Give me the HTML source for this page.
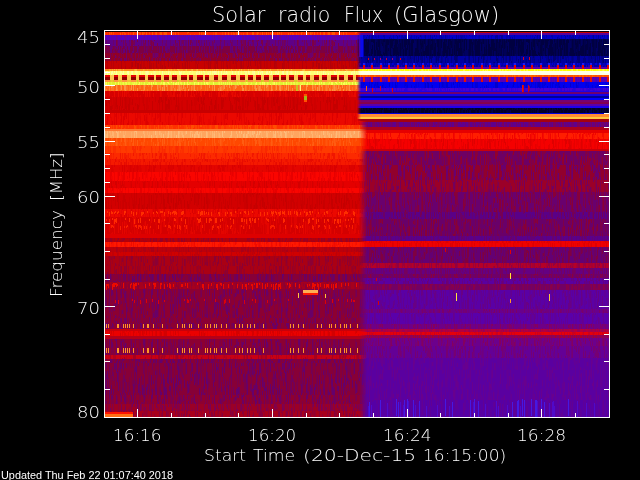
<!DOCTYPE html>
<html><head><meta charset="utf-8"><style>
html,body{margin:0;padding:0;background:#000;width:640px;height:480px;overflow:hidden}
svg{display:block}
text{font-family:"DejaVu Sans","Liberation Sans",sans-serif;font-weight:200;fill:#fff}
</style></head><body>
<svg width="640" height="480" viewBox="0 0 640 480">
<defs>
<pattern id="p1" patternUnits="userSpaceOnUse" x="7" y="3" width="168" height="60"><path fill="#fff" fill-opacity="0.35" d="M1 24h1v4h-1zM2 19h1v11h-1zM2 51h1v9h-1zM3 0h1v3h-1zM4 0h1v6h-1zM4 11h1v4h-1zM4 40h1v4h-1zM4 44h1v6h-1zM5 0h1v9h-1zM6 0h1v12h-1zM6 38h1v9h-1zM7 0h1v10h-1zM7 37h1v7h-1zM7 47h1v10h-1zM8 58h1v2h-1zM9 59h1v1h-1zM10 0h1v12h-1zM11 37h1v10h-1zM11 55h1v5h-1zM14 17h1v12h-1zM14 41h1v7h-1zM15 14h1v7h-1zM17 8h1v3h-1zM17 39h1v4h-1zM19 31h1v12h-1zM20 35h1v12h-1zM21 12h1v11h-1zM21 32h1v7h-1zM21 39h1v3h-1zM22 12h1v12h-1zM23 55h1v5h-1zM24 0h1v4h-1zM25 0h1v10h-1zM25 33h1v6h-1zM26 0h1v10h-1zM26 18h1v11h-1zM26 49h1v8h-1zM27 0h1v3h-1zM27 26h1v7h-1zM28 0h1v9h-1zM30 29h1v3h-1zM31 42h1v7h-1zM31 49h1v11h-1zM32 27h1v8h-1zM32 51h1v6h-1zM32 57h1v3h-1zM33 15h1v10h-1zM33 33h1v4h-1zM34 16h1v5h-1zM35 6h1v6h-1zM36 42h1v7h-1zM37 40h1v10h-1zM38 10h1v8h-1zM38 24h1v8h-1zM39 53h1v7h-1zM41 9h1v9h-1zM42 49h1v5h-1zM43 8h1v11h-1zM43 19h1v10h-1zM43 51h1v3h-1zM45 12h1v6h-1zM46 46h1v3h-1zM46 49h1v3h-1zM47 26h1v11h-1zM50 52h1v4h-1zM50 56h1v4h-1zM56 22h1v5h-1zM57 53h1v7h-1zM60 14h1v4h-1zM60 37h1v7h-1zM61 56h1v4h-1zM62 16h1v9h-1zM64 0h1v4h-1zM64 10h1v11h-1zM65 11h1v11h-1zM66 30h1v3h-1zM67 0h1v3h-1zM69 4h1v6h-1zM69 16h1v12h-1zM70 14h1v6h-1zM70 20h1v6h-1zM71 27h1v12h-1zM74 8h1v5h-1zM75 0h1v4h-1zM76 0h1v11h-1zM76 11h1v9h-1zM78 22h1v3h-1zM78 32h1v6h-1zM79 0h1v8h-1zM81 27h1v8h-1zM82 12h1v7h-1zM83 11h1v4h-1zM83 48h1v12h-1zM84 18h1v5h-1zM84 58h1v2h-1zM85 26h1v10h-1zM86 6h1v12h-1zM86 35h1v3h-1zM86 43h1v4h-1zM86 58h1v2h-1zM87 47h1v3h-1zM88 54h1v6h-1zM89 5h1v5h-1zM89 28h1v6h-1zM89 46h1v8h-1zM92 0h1v10h-1zM92 57h1v3h-1zM93 0h1v10h-1zM93 19h1v7h-1zM93 34h1v10h-1zM94 37h1v5h-1zM96 57h1v3h-1zM97 14h1v9h-1zM97 30h1v9h-1zM97 39h1v11h-1zM100 24h1v12h-1zM100 39h1v9h-1zM102 0h1v4h-1zM102 41h1v6h-1zM102 58h1v2h-1zM103 6h1v10h-1zM103 28h1v11h-1zM104 12h1v4h-1zM104 16h1v6h-1zM104 31h1v12h-1zM105 53h1v7h-1zM106 32h1v11h-1zM107 37h1v12h-1zM108 35h1v4h-1zM109 44h1v4h-1zM110 46h1v11h-1zM113 18h1v12h-1zM113 56h1v4h-1zM114 53h1v7h-1zM115 17h1v8h-1zM116 7h1v5h-1zM117 38h1v8h-1zM118 8h1v4h-1zM118 20h1v7h-1zM120 32h1v12h-1zM121 0h1v3h-1zM121 19h1v4h-1zM121 35h1v6h-1zM122 14h1v9h-1zM122 55h1v5h-1zM123 0h1v5h-1zM123 28h1v11h-1zM123 39h1v3h-1zM124 9h1v6h-1zM124 39h1v3h-1zM125 0h1v5h-1zM125 15h1v8h-1zM126 17h1v4h-1zM128 18h1v7h-1zM129 0h1v3h-1zM129 29h1v8h-1zM131 46h1v10h-1zM131 59h1v1h-1zM132 33h1v11h-1zM134 18h1v9h-1zM135 32h1v8h-1zM136 21h1v4h-1zM136 49h1v10h-1zM137 0h1v11h-1zM138 48h1v11h-1zM139 35h1v10h-1zM140 0h1v12h-1zM140 33h1v12h-1zM140 45h1v12h-1zM141 12h1v12h-1zM141 42h1v4h-1zM142 9h1v6h-1zM142 31h1v8h-1zM144 22h1v7h-1zM146 7h1v11h-1zM148 0h1v8h-1zM148 53h1v7h-1zM149 0h1v3h-1zM149 6h1v7h-1zM150 7h1v8h-1zM150 40h1v9h-1zM151 58h1v2h-1zM152 24h1v9h-1zM153 6h1v8h-1zM153 20h1v7h-1zM153 35h1v5h-1zM155 58h1v2h-1zM156 29h1v11h-1zM158 0h1v12h-1zM159 21h1v5h-1zM160 10h1v4h-1zM161 46h1v3h-1zM162 0h1v12h-1zM162 20h1v3h-1zM163 3h1v6h-1zM163 9h1v10h-1zM164 35h1v7h-1zM167 0h1v12h-1zM167 12h1v4h-1z"/><path fill="#fff" fill-opacity="0.6" d="M0 42h1v5h-1zM2 42h1v9h-1zM3 28h1v7h-1zM3 35h1v8h-1zM3 47h1v4h-1zM4 6h1v5h-1zM4 25h1v3h-1zM4 50h1v10h-1zM5 15h1v6h-1zM6 17h1v11h-1zM7 10h1v4h-1zM7 44h1v3h-1zM8 12h1v4h-1zM12 24h1v7h-1zM12 37h1v9h-1zM12 46h1v6h-1zM15 8h1v6h-1zM15 31h1v3h-1zM16 0h1v9h-1zM16 43h1v4h-1zM20 9h1v11h-1zM20 52h1v8h-1zM21 0h1v7h-1zM21 7h1v5h-1zM22 35h1v3h-1zM24 9h1v7h-1zM26 10h1v8h-1zM26 44h1v5h-1zM27 38h1v9h-1zM28 23h1v12h-1zM29 40h1v9h-1zM29 49h1v7h-1zM30 57h1v3h-1zM31 0h1v9h-1zM32 9h1v9h-1zM35 32h1v3h-1zM35 38h1v4h-1zM35 59h1v1h-1zM37 0h1v5h-1zM37 5h1v12h-1zM37 54h1v6h-1zM38 52h1v7h-1zM38 59h1v1h-1zM39 0h1v11h-1zM40 23h1v11h-1zM40 53h1v4h-1zM41 28h1v11h-1zM41 39h1v9h-1zM43 0h1v8h-1zM43 41h1v10h-1zM44 10h1v6h-1zM44 16h1v9h-1zM46 19h1v5h-1zM46 52h1v5h-1zM48 14h1v7h-1zM48 39h1v5h-1zM49 23h1v5h-1zM49 58h1v2h-1zM50 0h1v4h-1zM50 16h1v8h-1zM50 32h1v5h-1zM52 18h1v7h-1zM54 14h1v8h-1zM55 12h1v3h-1zM56 0h1v3h-1zM56 13h1v9h-1zM56 27h1v7h-1zM56 40h1v5h-1zM56 45h1v12h-1zM58 24h1v12h-1zM58 48h1v6h-1zM59 30h1v11h-1zM60 44h1v4h-1zM60 48h1v11h-1zM60 59h1v1h-1zM61 3h1v8h-1zM61 32h1v3h-1zM62 0h1v4h-1zM62 11h1v5h-1zM64 24h1v12h-1zM64 39h1v8h-1zM67 34h1v11h-1zM68 0h1v3h-1zM68 14h1v5h-1zM68 30h1v3h-1zM68 33h1v11h-1zM68 44h1v11h-1zM68 59h1v1h-1zM69 10h1v6h-1zM70 36h1v9h-1zM71 20h1v7h-1zM71 58h1v2h-1zM72 0h1v3h-1zM72 8h1v4h-1zM72 12h1v9h-1zM72 44h1v5h-1zM73 33h1v10h-1zM73 54h1v6h-1zM74 56h1v4h-1zM75 4h1v10h-1zM75 21h1v7h-1zM76 20h1v9h-1zM76 54h1v4h-1zM77 52h1v4h-1zM77 56h1v4h-1zM78 3h1v11h-1zM78 49h1v3h-1zM79 37h1v7h-1zM80 20h1v7h-1zM80 57h1v3h-1zM82 22h1v5h-1zM83 26h1v5h-1zM84 41h1v9h-1zM84 53h1v5h-1zM85 17h1v5h-1zM85 22h1v4h-1zM88 15h1v10h-1zM89 0h1v5h-1zM91 4h1v10h-1zM92 10h1v12h-1zM93 26h1v8h-1zM93 44h1v9h-1zM95 51h1v9h-1zM96 31h1v10h-1zM96 41h1v4h-1zM98 0h1v4h-1zM98 8h1v10h-1zM98 18h1v9h-1zM98 39h1v4h-1zM99 0h1v6h-1zM99 11h1v7h-1zM99 34h1v6h-1zM100 59h1v1h-1zM101 15h1v12h-1zM102 4h1v3h-1zM102 7h1v3h-1zM104 53h1v3h-1zM105 4h1v9h-1zM105 42h1v4h-1zM106 9h1v9h-1zM106 29h1v3h-1zM106 47h1v3h-1zM107 49h1v10h-1zM108 0h1v6h-1zM108 15h1v8h-1zM108 39h1v7h-1zM109 58h1v2h-1zM111 5h1v4h-1zM111 9h1v10h-1zM112 0h1v8h-1zM113 0h1v10h-1zM114 43h1v10h-1zM115 25h1v12h-1zM115 52h1v7h-1zM115 59h1v1h-1zM116 12h1v7h-1zM116 19h1v11h-1zM117 12h1v7h-1zM117 27h1v11h-1zM118 16h1v4h-1zM118 30h1v4h-1zM119 19h1v4h-1zM119 23h1v6h-1zM119 32h1v11h-1zM120 53h1v3h-1zM121 29h1v6h-1zM122 23h1v6h-1zM127 4h1v3h-1zM127 7h1v11h-1zM127 18h1v12h-1zM128 0h1v6h-1zM128 40h1v3h-1zM128 55h1v5h-1zM129 11h1v11h-1zM129 58h1v2h-1zM130 49h1v9h-1zM131 56h1v3h-1zM132 22h1v11h-1zM133 28h1v5h-1zM134 13h1v5h-1zM134 58h1v2h-1zM136 0h1v11h-1zM136 28h1v12h-1zM136 40h1v3h-1zM137 11h1v12h-1zM137 23h1v8h-1zM137 41h1v11h-1zM137 58h1v2h-1zM139 45h1v10h-1zM142 15h1v7h-1zM142 22h1v9h-1zM144 48h1v9h-1zM145 0h1v7h-1zM147 51h1v9h-1zM148 17h1v6h-1zM148 28h1v11h-1zM149 13h1v12h-1zM152 0h1v12h-1zM152 42h1v12h-1zM152 57h1v3h-1zM154 10h1v11h-1zM154 50h1v6h-1zM156 22h1v7h-1zM157 0h1v4h-1zM160 0h1v3h-1zM160 44h1v9h-1zM160 53h1v3h-1zM160 56h1v4h-1zM161 49h1v5h-1zM162 46h1v3h-1zM163 28h1v9h-1zM163 49h1v4h-1zM164 0h1v3h-1zM164 6h1v9h-1zM164 32h1v3h-1zM165 49h1v11h-1zM166 25h1v9h-1zM166 34h1v3h-1z"/><path fill="#fff" fill-opacity="0.9" d="M0 20h1v12h-1zM0 47h1v5h-1zM1 12h1v12h-1zM1 34h1v10h-1zM2 0h1v7h-1zM3 3h1v10h-1zM3 13h1v9h-1zM3 43h1v4h-1zM3 51h1v9h-1zM4 15h1v3h-1zM6 50h1v7h-1zM6 57h1v3h-1zM7 57h1v3h-1zM8 51h1v3h-1zM9 17h1v8h-1zM9 47h1v12h-1zM11 0h1v11h-1zM11 47h1v8h-1zM12 18h1v6h-1zM13 21h1v9h-1zM14 51h1v4h-1zM15 53h1v5h-1zM15 58h1v2h-1zM16 15h1v3h-1zM16 37h1v6h-1zM17 0h1v8h-1zM17 11h1v3h-1zM19 11h1v11h-1zM20 47h1v5h-1zM22 0h1v12h-1zM22 49h1v11h-1zM23 11h1v11h-1zM23 34h1v5h-1zM24 25h1v5h-1zM24 30h1v3h-1zM24 41h1v8h-1zM26 29h1v12h-1zM26 57h1v3h-1zM28 35h1v7h-1zM28 51h1v9h-1zM29 14h1v12h-1zM29 30h1v7h-1zM31 9h1v12h-1zM32 18h1v9h-1zM33 53h1v7h-1zM34 43h1v8h-1zM36 36h1v6h-1zM36 49h1v8h-1zM36 57h1v3h-1zM37 50h1v4h-1zM38 18h1v6h-1zM39 11h1v8h-1zM39 42h1v11h-1zM40 37h1v9h-1zM41 0h1v4h-1zM41 4h1v5h-1zM42 4h1v3h-1zM43 54h1v5h-1zM46 24h1v5h-1zM46 34h1v12h-1zM47 4h1v10h-1zM47 37h1v9h-1zM47 50h1v10h-1zM48 35h1v4h-1zM49 0h1v10h-1zM50 24h1v4h-1zM50 28h1v4h-1zM53 22h1v11h-1zM54 0h1v5h-1zM54 33h1v5h-1zM54 53h1v7h-1zM55 38h1v9h-1zM55 47h1v5h-1zM56 3h1v10h-1zM57 42h1v11h-1zM60 0h1v5h-1zM60 34h1v3h-1zM61 26h1v6h-1zM61 35h1v10h-1zM61 45h1v11h-1zM62 25h1v7h-1zM62 32h1v6h-1zM63 24h1v7h-1zM63 35h1v4h-1zM63 43h1v3h-1zM64 4h1v6h-1zM64 36h1v3h-1zM65 43h1v6h-1zM66 0h1v3h-1zM66 6h1v5h-1zM67 45h1v6h-1zM68 11h1v3h-1zM71 11h1v9h-1zM72 21h1v8h-1zM72 29h1v3h-1zM72 38h1v6h-1zM72 49h1v9h-1zM73 0h1v11h-1zM74 48h1v8h-1zM75 34h1v5h-1zM77 0h1v12h-1zM77 26h1v8h-1zM78 25h1v7h-1zM78 52h1v8h-1zM79 8h1v3h-1zM79 22h1v5h-1zM80 0h1v6h-1zM80 38h1v10h-1zM81 11h1v9h-1zM81 20h1v7h-1zM82 7h1v5h-1zM82 27h1v9h-1zM82 36h1v9h-1zM82 45h1v5h-1zM82 54h1v6h-1zM83 41h1v7h-1zM84 0h1v12h-1zM84 50h1v3h-1zM85 0h1v10h-1zM85 45h1v9h-1zM86 47h1v11h-1zM87 14h1v10h-1zM87 28h1v10h-1zM87 38h1v9h-1zM87 50h1v6h-1zM88 37h1v7h-1zM88 44h1v5h-1zM89 19h1v9h-1zM89 34h1v8h-1zM89 54h1v6h-1zM90 25h1v3h-1zM90 37h1v3h-1zM91 23h1v11h-1zM92 35h1v12h-1zM93 53h1v6h-1zM94 56h1v4h-1zM95 0h1v9h-1zM95 21h1v10h-1zM97 23h1v7h-1zM97 58h1v2h-1zM98 27h1v12h-1zM98 50h1v7h-1zM99 18h1v8h-1zM99 40h1v3h-1zM100 8h1v8h-1zM101 36h1v4h-1zM102 25h1v4h-1zM102 29h1v12h-1zM103 43h1v11h-1zM103 54h1v6h-1zM104 22h1v9h-1zM104 43h1v10h-1zM104 56h1v4h-1zM106 26h1v3h-1zM107 0h1v3h-1zM107 3h1v4h-1zM109 0h1v10h-1zM109 34h1v10h-1zM110 9h1v10h-1zM110 42h1v4h-1zM110 57h1v3h-1zM111 19h1v9h-1zM111 47h1v10h-1zM112 43h1v10h-1zM112 58h1v2h-1zM113 30h1v7h-1zM113 37h1v6h-1zM114 0h1v6h-1zM115 37h1v8h-1zM116 0h1v7h-1zM116 46h1v12h-1zM117 46h1v11h-1zM118 34h1v12h-1zM119 0h1v5h-1zM119 43h1v7h-1zM121 41h1v6h-1zM122 35h1v8h-1zM122 43h1v12h-1zM125 36h1v6h-1zM125 48h1v10h-1zM126 21h1v12h-1zM126 44h1v12h-1zM128 6h1v3h-1zM129 3h1v8h-1zM129 49h1v9h-1zM130 41h1v8h-1zM131 0h1v3h-1zM131 21h1v9h-1zM131 42h1v4h-1zM132 15h1v7h-1zM132 54h1v5h-1zM135 22h1v10h-1zM135 50h1v6h-1zM136 25h1v3h-1zM136 59h1v1h-1zM139 24h1v8h-1zM139 58h1v2h-1zM140 21h1v6h-1zM141 0h1v3h-1zM143 54h1v6h-1zM144 12h1v10h-1zM145 26h1v9h-1zM145 38h1v9h-1zM146 18h1v3h-1zM146 55h1v5h-1zM148 8h1v4h-1zM148 23h1v5h-1zM149 25h1v8h-1zM149 55h1v5h-1zM151 37h1v3h-1zM152 33h1v9h-1zM153 27h1v8h-1zM153 55h1v5h-1zM154 29h1v10h-1zM154 56h1v4h-1zM155 37h1v10h-1zM155 47h1v11h-1zM156 11h1v11h-1zM157 16h1v12h-1zM157 28h1v5h-1zM158 24h1v8h-1zM158 32h1v11h-1zM158 43h1v5h-1zM158 54h1v3h-1zM159 26h1v12h-1zM159 41h1v7h-1zM159 48h1v7h-1zM159 55h1v5h-1zM160 14h1v6h-1zM160 41h1v3h-1zM161 0h1v9h-1zM161 9h1v12h-1zM161 36h1v10h-1zM162 23h1v5h-1zM162 37h1v9h-1zM163 23h1v5h-1zM163 53h1v7h-1zM164 3h1v3h-1zM164 15h1v5h-1zM166 15h1v3h-1zM166 18h1v7h-1zM166 54h1v6h-1zM167 34h1v3h-1zM167 58h1v2h-1z"/></pattern><mask id="t1" maskUnits="userSpaceOnUse" x="0" y="0" width="640" height="480"><rect width="640" height="480" fill="url(#p1)"/></mask><pattern id="p2" patternUnits="userSpaceOnUse" x="14" y="6" width="155" height="52"><path fill="#fff" fill-opacity="0.35" d="M0 5h1v10h-1zM0 23h1v4h-1zM1 3h1v7h-1zM1 26h1v12h-1zM3 27h1v11h-1zM3 48h1v4h-1zM4 0h1v11h-1zM6 12h1v12h-1zM6 27h1v4h-1zM6 43h1v5h-1zM7 16h1v5h-1zM7 33h1v6h-1zM8 27h1v4h-1zM9 3h1v3h-1zM11 18h1v11h-1zM12 23h1v4h-1zM13 30h1v3h-1zM14 13h1v9h-1zM15 11h1v4h-1zM15 22h1v10h-1zM16 0h1v8h-1zM18 15h1v9h-1zM18 37h1v12h-1zM19 36h1v11h-1zM20 11h1v6h-1zM20 25h1v7h-1zM20 42h1v8h-1zM21 0h1v4h-1zM21 36h1v12h-1zM23 8h1v11h-1zM23 27h1v5h-1zM24 0h1v9h-1zM24 26h1v4h-1zM24 30h1v8h-1zM24 38h1v10h-1zM26 35h1v7h-1zM27 0h1v6h-1zM27 46h1v5h-1zM28 29h1v6h-1zM29 0h1v12h-1zM29 12h1v9h-1zM30 0h1v3h-1zM31 21h1v11h-1zM31 42h1v8h-1zM35 40h1v12h-1zM36 21h1v9h-1zM36 30h1v3h-1zM36 41h1v7h-1zM37 51h1v1h-1zM38 14h1v6h-1zM38 27h1v10h-1zM39 9h1v6h-1zM40 9h1v11h-1zM40 42h1v10h-1zM41 3h1v9h-1zM41 35h1v4h-1zM41 46h1v6h-1zM43 48h1v4h-1zM47 0h1v11h-1zM50 23h1v11h-1zM51 16h1v3h-1zM51 19h1v10h-1zM52 0h1v12h-1zM53 21h1v7h-1zM53 28h1v6h-1zM53 34h1v3h-1zM53 37h1v5h-1zM53 51h1v1h-1zM54 0h1v10h-1zM54 51h1v1h-1zM56 0h1v4h-1zM56 14h1v3h-1zM57 34h1v4h-1zM58 14h1v7h-1zM58 27h1v10h-1zM59 36h1v6h-1zM61 29h1v10h-1zM61 48h1v4h-1zM63 16h1v5h-1zM63 39h1v7h-1zM63 46h1v6h-1zM64 28h1v6h-1zM65 27h1v10h-1zM67 0h1v9h-1zM68 40h1v3h-1zM70 18h1v4h-1zM71 48h1v4h-1zM72 11h1v7h-1zM72 18h1v5h-1zM74 3h1v5h-1zM74 20h1v4h-1zM74 38h1v8h-1zM74 50h1v2h-1zM75 36h1v12h-1zM77 27h1v8h-1zM77 35h1v9h-1zM80 27h1v7h-1zM81 0h1v4h-1zM83 29h1v10h-1zM84 49h1v3h-1zM85 22h1v4h-1zM86 37h1v12h-1zM88 0h1v3h-1zM88 24h1v7h-1zM90 46h1v6h-1zM91 6h1v5h-1zM93 18h1v12h-1zM94 3h1v8h-1zM94 33h1v11h-1zM96 39h1v9h-1zM97 7h1v7h-1zM97 30h1v7h-1zM98 29h1v3h-1zM98 32h1v3h-1zM98 41h1v9h-1zM99 15h1v7h-1zM99 26h1v12h-1zM99 38h1v7h-1zM101 32h1v10h-1zM102 50h1v2h-1zM103 26h1v5h-1zM104 0h1v9h-1zM104 50h1v2h-1zM105 34h1v5h-1zM105 39h1v3h-1zM105 42h1v9h-1zM106 9h1v3h-1zM106 28h1v11h-1zM107 44h1v7h-1zM109 33h1v12h-1zM109 45h1v7h-1zM110 18h1v9h-1zM110 32h1v9h-1zM112 25h1v10h-1zM113 28h1v4h-1zM115 27h1v10h-1zM115 37h1v10h-1zM116 17h1v10h-1zM116 30h1v11h-1zM116 41h1v11h-1zM118 45h1v7h-1zM121 15h1v5h-1zM121 28h1v10h-1zM122 36h1v8h-1zM123 11h1v8h-1zM124 0h1v8h-1zM125 0h1v9h-1zM125 21h1v10h-1zM125 35h1v7h-1zM126 0h1v6h-1zM126 25h1v6h-1zM126 39h1v12h-1zM128 11h1v10h-1zM128 32h1v11h-1zM129 0h1v5h-1zM129 27h1v5h-1zM130 32h1v7h-1zM131 0h1v9h-1zM131 21h1v8h-1zM131 38h1v11h-1zM133 0h1v11h-1zM133 31h1v4h-1zM134 19h1v10h-1zM135 18h1v7h-1zM137 0h1v12h-1zM137 32h1v10h-1zM138 45h1v7h-1zM139 8h1v10h-1zM139 43h1v4h-1zM141 10h1v10h-1zM141 20h1v6h-1zM144 20h1v12h-1zM144 43h1v9h-1zM145 7h1v11h-1zM145 27h1v3h-1zM146 49h1v3h-1zM147 38h1v8h-1zM149 27h1v12h-1zM149 45h1v5h-1zM150 14h1v7h-1zM150 34h1v10h-1zM151 0h1v12h-1zM152 12h1v12h-1zM152 35h1v4h-1zM153 20h1v4h-1z"/><path fill="#fff" fill-opacity="0.6" d="M1 14h1v12h-1zM1 47h1v5h-1zM2 0h1v5h-1zM2 25h1v11h-1zM2 45h1v5h-1zM3 38h1v10h-1zM4 21h1v9h-1zM5 6h1v4h-1zM5 30h1v11h-1zM6 24h1v3h-1zM6 31h1v12h-1zM8 0h1v3h-1zM8 43h1v8h-1zM9 22h1v6h-1zM9 28h1v5h-1zM10 20h1v7h-1zM11 29h1v4h-1zM12 0h1v5h-1zM12 5h1v12h-1zM12 27h1v5h-1zM13 44h1v8h-1zM15 32h1v5h-1zM16 29h1v3h-1zM16 32h1v10h-1zM16 45h1v4h-1zM16 49h1v3h-1zM19 20h1v6h-1zM22 28h1v4h-1zM22 32h1v7h-1zM25 43h1v5h-1zM25 48h1v4h-1zM26 42h1v10h-1zM27 37h1v9h-1zM28 0h1v8h-1zM28 8h1v12h-1zM28 35h1v5h-1zM29 51h1v1h-1zM31 3h1v9h-1zM32 7h1v9h-1zM32 24h1v7h-1zM33 44h1v8h-1zM34 4h1v10h-1zM35 12h1v9h-1zM37 40h1v11h-1zM38 20h1v7h-1zM38 37h1v11h-1zM41 0h1v3h-1zM41 12h1v12h-1zM43 12h1v12h-1zM43 27h1v9h-1zM44 6h1v9h-1zM44 47h1v5h-1zM45 33h1v6h-1zM46 33h1v10h-1zM46 46h1v5h-1zM47 11h1v9h-1zM49 30h1v3h-1zM52 28h1v8h-1zM52 44h1v7h-1zM54 15h1v7h-1zM54 22h1v10h-1zM55 5h1v11h-1zM56 17h1v5h-1zM56 34h1v11h-1zM56 51h1v1h-1zM57 4h1v5h-1zM57 21h1v8h-1zM59 0h1v3h-1zM59 42h1v4h-1zM60 36h1v11h-1zM64 45h1v7h-1zM65 37h1v4h-1zM65 41h1v7h-1zM66 10h1v9h-1zM67 21h1v9h-1zM68 18h1v10h-1zM69 13h1v4h-1zM69 35h1v3h-1zM70 34h1v5h-1zM70 49h1v3h-1zM71 0h1v9h-1zM72 0h1v11h-1zM72 23h1v6h-1zM73 38h1v3h-1zM75 3h1v11h-1zM75 48h1v4h-1zM76 12h1v4h-1zM76 26h1v11h-1zM77 7h1v7h-1zM77 14h1v4h-1zM77 44h1v3h-1zM77 47h1v3h-1zM78 43h1v7h-1zM79 32h1v11h-1zM80 12h1v8h-1zM80 41h1v10h-1zM83 13h1v6h-1zM83 25h1v4h-1zM84 0h1v12h-1zM84 12h1v8h-1zM84 39h1v10h-1zM85 26h1v5h-1zM85 50h1v2h-1zM89 26h1v8h-1zM90 3h1v8h-1zM91 24h1v11h-1zM92 11h1v4h-1zM92 31h1v11h-1zM93 50h1v2h-1zM95 28h1v7h-1zM95 35h1v12h-1zM96 0h1v8h-1zM96 48h1v4h-1zM97 43h1v3h-1zM100 0h1v12h-1zM101 4h1v3h-1zM103 31h1v8h-1zM104 16h1v6h-1zM106 0h1v6h-1zM106 12h1v9h-1zM106 21h1v4h-1zM106 25h1v3h-1zM107 12h1v4h-1zM107 35h1v3h-1zM109 22h1v6h-1zM111 0h1v7h-1zM112 35h1v3h-1zM113 41h1v5h-1zM114 0h1v11h-1zM117 12h1v10h-1zM117 49h1v3h-1zM118 0h1v4h-1zM118 33h1v3h-1zM119 0h1v3h-1zM121 0h1v3h-1zM121 3h1v12h-1zM121 20h1v8h-1zM121 47h1v5h-1zM122 8h1v9h-1zM123 0h1v3h-1zM123 3h1v8h-1zM123 19h1v3h-1zM124 43h1v6h-1zM124 49h1v3h-1zM126 6h1v12h-1zM126 51h1v1h-1zM127 32h1v3h-1zM129 32h1v4h-1zM129 36h1v4h-1zM129 40h1v8h-1zM129 48h1v4h-1zM130 17h1v3h-1zM131 9h1v12h-1zM132 4h1v3h-1zM134 12h1v4h-1zM134 16h1v3h-1zM138 0h1v7h-1zM138 36h1v9h-1zM139 32h1v11h-1zM140 8h1v10h-1zM140 45h1v7h-1zM141 0h1v4h-1zM141 51h1v1h-1zM143 0h1v9h-1zM143 31h1v3h-1zM144 4h1v4h-1zM145 0h1v7h-1zM146 24h1v8h-1zM147 46h1v6h-1zM149 50h1v2h-1zM152 0h1v4h-1zM153 24h1v11h-1zM153 51h1v1h-1zM154 6h1v8h-1z"/><path fill="#fff" fill-opacity="0.9" d="M0 0h1v5h-1zM1 38h1v9h-1zM4 15h1v6h-1zM4 38h1v10h-1zM7 50h1v2h-1zM8 3h1v9h-1zM8 31h1v12h-1zM10 12h1v8h-1zM10 27h1v11h-1zM11 14h1v4h-1zM11 33h1v8h-1zM12 17h1v3h-1zM13 0h1v8h-1zM14 22h1v9h-1zM15 45h1v7h-1zM18 24h1v6h-1zM19 31h1v5h-1zM21 4h1v10h-1zM21 51h1v1h-1zM23 42h1v9h-1zM24 51h1v1h-1zM25 25h1v8h-1zM26 32h1v3h-1zM27 14h1v5h-1zM29 36h1v10h-1zM30 6h1v10h-1zM31 0h1v3h-1zM36 33h1v8h-1zM36 48h1v3h-1zM38 48h1v4h-1zM39 15h1v3h-1zM40 20h1v7h-1zM40 27h1v3h-1zM45 10h1v12h-1zM45 22h1v7h-1zM45 29h1v4h-1zM45 39h1v9h-1zM46 6h1v10h-1zM46 43h1v3h-1zM47 36h1v7h-1zM48 36h1v3h-1zM48 48h1v4h-1zM49 13h1v5h-1zM49 37h1v3h-1zM49 40h1v10h-1zM51 29h1v5h-1zM51 34h1v3h-1zM51 37h1v7h-1zM52 12h1v6h-1zM54 41h1v3h-1zM55 24h1v7h-1zM56 4h1v5h-1zM57 13h1v3h-1zM57 38h1v10h-1zM58 0h1v10h-1zM58 40h1v9h-1zM59 49h1v3h-1zM60 21h1v9h-1zM62 19h1v9h-1zM63 10h1v6h-1zM64 39h1v3h-1zM65 48h1v4h-1zM66 27h1v4h-1zM67 42h1v7h-1zM68 0h1v7h-1zM68 43h1v8h-1zM69 24h1v4h-1zM69 38h1v4h-1zM70 0h1v11h-1zM73 0h1v3h-1zM73 24h1v10h-1zM73 49h1v3h-1zM74 24h1v3h-1zM74 30h1v8h-1zM76 16h1v10h-1zM76 51h1v1h-1zM78 50h1v2h-1zM79 10h1v6h-1zM81 18h1v6h-1zM82 39h1v3h-1zM83 44h1v8h-1zM84 20h1v7h-1zM85 12h1v10h-1zM86 25h1v12h-1zM87 30h1v4h-1zM89 7h1v3h-1zM89 13h1v6h-1zM89 19h1v7h-1zM89 37h1v12h-1zM89 49h1v3h-1zM90 21h1v4h-1zM90 28h1v7h-1zM90 35h1v11h-1zM91 14h1v6h-1zM91 35h1v7h-1zM93 6h1v12h-1zM95 16h1v12h-1zM97 14h1v5h-1zM97 19h1v11h-1zM98 11h1v5h-1zM98 24h1v5h-1zM100 12h1v3h-1zM100 38h1v7h-1zM101 16h1v7h-1zM101 49h1v3h-1zM102 3h1v11h-1zM102 14h1v10h-1zM102 24h1v8h-1zM102 32h1v8h-1zM105 51h1v1h-1zM107 0h1v12h-1zM107 23h1v9h-1zM108 15h1v9h-1zM108 44h1v4h-1zM109 6h1v12h-1zM110 0h1v10h-1zM110 27h1v5h-1zM111 25h1v12h-1zM112 0h1v9h-1zM112 38h1v12h-1zM112 50h1v2h-1zM113 13h1v3h-1zM114 11h1v9h-1zM117 22h1v10h-1zM117 42h1v7h-1zM118 10h1v7h-1zM118 36h1v6h-1zM118 42h1v3h-1zM119 25h1v11h-1zM123 30h1v10h-1zM127 42h1v6h-1zM129 20h1v7h-1zM130 5h1v6h-1zM130 20h1v12h-1zM130 49h1v3h-1zM132 7h1v10h-1zM133 11h1v9h-1zM133 45h1v4h-1zM135 0h1v5h-1zM135 37h1v5h-1zM135 51h1v1h-1zM137 15h1v4h-1zM137 24h1v5h-1zM137 29h1v3h-1zM138 18h1v11h-1zM139 47h1v5h-1zM141 4h1v6h-1zM141 34h1v6h-1zM141 40h1v11h-1zM142 44h1v8h-1zM143 19h1v12h-1zM143 34h1v8h-1zM143 42h1v9h-1zM144 32h1v11h-1zM146 0h1v12h-1zM148 12h1v12h-1zM148 29h1v7h-1zM149 39h1v6h-1zM150 21h1v6h-1zM150 27h1v7h-1zM150 44h1v8h-1zM152 24h1v5h-1zM154 14h1v6h-1z"/></pattern><mask id="t2" maskUnits="userSpaceOnUse" x="0" y="0" width="640" height="480"><rect width="640" height="480" fill="url(#p2)"/></mask><pattern id="p3" patternUnits="userSpaceOnUse" x="21" y="9" width="181" height="68"><path fill="#fff" fill-opacity="0.35" d="M0 0h1v12h-1zM1 45h1v6h-1zM2 25h1v9h-1zM2 48h1v4h-1zM2 60h1v7h-1zM3 41h1v8h-1zM4 47h1v8h-1zM5 53h1v3h-1zM6 27h1v5h-1zM7 37h1v10h-1zM7 47h1v11h-1zM8 19h1v6h-1zM8 25h1v4h-1zM8 37h1v6h-1zM8 65h1v3h-1zM9 0h1v7h-1zM9 7h1v8h-1zM9 45h1v10h-1zM10 36h1v5h-1zM10 67h1v1h-1zM11 33h1v9h-1zM12 21h1v6h-1zM12 51h1v6h-1zM14 7h1v11h-1zM14 35h1v8h-1zM15 21h1v7h-1zM17 36h1v4h-1zM17 61h1v7h-1zM19 11h1v5h-1zM19 28h1v5h-1zM21 0h1v11h-1zM22 37h1v7h-1zM23 0h1v11h-1zM24 0h1v8h-1zM24 45h1v8h-1zM25 23h1v3h-1zM25 34h1v10h-1zM25 44h1v12h-1zM26 41h1v12h-1zM27 50h1v9h-1zM28 48h1v4h-1zM28 52h1v9h-1zM29 38h1v12h-1zM29 65h1v3h-1zM30 24h1v12h-1zM30 45h1v10h-1zM31 16h1v9h-1zM31 67h1v1h-1zM32 7h1v11h-1zM32 38h1v10h-1zM32 57h1v6h-1zM33 0h1v8h-1zM33 8h1v7h-1zM33 20h1v7h-1zM33 61h1v6h-1zM35 0h1v10h-1zM37 12h1v11h-1zM38 24h1v10h-1zM39 39h1v7h-1zM40 17h1v11h-1zM40 28h1v7h-1zM40 56h1v12h-1zM41 0h1v8h-1zM41 8h1v7h-1zM44 48h1v9h-1zM45 0h1v6h-1zM45 33h1v3h-1zM45 62h1v4h-1zM47 4h1v3h-1zM48 0h1v11h-1zM48 26h1v6h-1zM49 57h1v4h-1zM49 67h1v1h-1zM50 33h1v5h-1zM51 12h1v4h-1zM51 16h1v12h-1zM52 45h1v9h-1zM53 41h1v3h-1zM54 24h1v9h-1zM56 57h1v9h-1zM58 5h1v10h-1zM59 10h1v9h-1zM59 39h1v10h-1zM59 49h1v3h-1zM59 52h1v10h-1zM60 63h1v4h-1zM60 67h1v1h-1zM61 0h1v10h-1zM61 61h1v7h-1zM62 3h1v8h-1zM63 11h1v9h-1zM63 34h1v3h-1zM64 12h1v8h-1zM64 24h1v10h-1zM64 48h1v11h-1zM65 49h1v9h-1zM65 58h1v10h-1zM66 31h1v11h-1zM66 59h1v4h-1zM66 63h1v5h-1zM67 31h1v5h-1zM68 0h1v7h-1zM68 17h1v10h-1zM68 43h1v3h-1zM69 17h1v12h-1zM71 60h1v8h-1zM72 38h1v6h-1zM72 59h1v9h-1zM73 17h1v4h-1zM75 58h1v10h-1zM76 35h1v3h-1zM77 28h1v4h-1zM78 32h1v11h-1zM79 66h1v2h-1zM81 0h1v3h-1zM81 17h1v4h-1zM81 29h1v10h-1zM81 63h1v5h-1zM82 38h1v11h-1zM83 33h1v8h-1zM84 6h1v11h-1zM84 54h1v7h-1zM85 17h1v6h-1zM85 23h1v5h-1zM85 28h1v8h-1zM87 0h1v7h-1zM89 39h1v10h-1zM90 10h1v3h-1zM90 57h1v6h-1zM90 63h1v5h-1zM92 24h1v12h-1zM96 41h1v10h-1zM97 55h1v7h-1zM97 62h1v6h-1zM98 22h1v3h-1zM98 36h1v11h-1zM99 0h1v11h-1zM99 11h1v8h-1zM99 60h1v7h-1zM103 60h1v4h-1zM103 64h1v4h-1zM104 0h1v6h-1zM104 9h1v10h-1zM104 45h1v12h-1zM105 0h1v10h-1zM106 11h1v6h-1zM107 16h1v12h-1zM108 17h1v4h-1zM108 21h1v5h-1zM108 33h1v8h-1zM108 58h1v3h-1zM108 61h1v7h-1zM110 9h1v7h-1zM111 17h1v11h-1zM113 0h1v4h-1zM113 36h1v8h-1zM114 17h1v10h-1zM115 12h1v9h-1zM115 48h1v7h-1zM117 63h1v5h-1zM118 19h1v10h-1zM118 47h1v7h-1zM119 6h1v3h-1zM120 23h1v8h-1zM120 31h1v9h-1zM120 61h1v7h-1zM122 46h1v12h-1zM123 9h1v6h-1zM123 53h1v9h-1zM124 20h1v8h-1zM125 12h1v4h-1zM125 16h1v10h-1zM126 38h1v4h-1zM126 53h1v11h-1zM126 64h1v4h-1zM128 36h1v10h-1zM129 8h1v12h-1zM129 20h1v8h-1zM129 44h1v12h-1zM130 66h1v2h-1zM131 3h1v5h-1zM134 0h1v12h-1zM135 9h1v8h-1zM136 57h1v5h-1zM137 58h1v3h-1zM139 3h1v9h-1zM140 0h1v7h-1zM140 50h1v9h-1zM140 59h1v9h-1zM141 34h1v6h-1zM142 47h1v6h-1zM144 34h1v11h-1zM145 11h1v3h-1zM145 26h1v9h-1zM146 49h1v5h-1zM147 24h1v4h-1zM148 14h1v8h-1zM149 0h1v7h-1zM149 26h1v12h-1zM149 38h1v5h-1zM149 43h1v6h-1zM149 49h1v9h-1zM149 67h1v1h-1zM150 0h1v8h-1zM150 49h1v9h-1zM151 0h1v3h-1zM151 46h1v4h-1zM152 57h1v6h-1zM154 55h1v6h-1zM155 50h1v6h-1zM156 56h1v8h-1zM157 5h1v8h-1zM158 40h1v5h-1zM158 56h1v11h-1zM158 67h1v1h-1zM159 38h1v4h-1zM160 4h1v9h-1zM160 13h1v5h-1zM160 25h1v7h-1zM160 32h1v11h-1zM161 18h1v4h-1zM162 37h1v5h-1zM162 42h1v7h-1zM162 57h1v6h-1zM163 20h1v12h-1zM163 41h1v10h-1zM163 51h1v11h-1zM164 28h1v6h-1zM164 34h1v12h-1zM164 46h1v7h-1zM164 64h1v4h-1zM165 29h1v12h-1zM167 45h1v6h-1zM167 60h1v8h-1zM168 38h1v12h-1zM168 59h1v9h-1zM171 33h1v7h-1zM171 59h1v3h-1zM172 17h1v11h-1zM173 40h1v10h-1zM173 60h1v5h-1zM174 0h1v12h-1zM174 54h1v12h-1zM176 0h1v9h-1zM176 37h1v9h-1zM177 63h1v5h-1zM180 24h1v4h-1zM180 28h1v9h-1z"/><path fill="#fff" fill-opacity="0.6" d="M1 0h1v4h-1zM2 52h1v8h-1zM4 29h1v10h-1zM7 33h1v4h-1zM7 58h1v7h-1zM7 65h1v3h-1zM8 43h1v10h-1zM9 15h1v9h-1zM9 64h1v4h-1zM10 32h1v4h-1zM10 41h1v4h-1zM12 27h1v7h-1zM12 57h1v6h-1zM13 8h1v6h-1zM13 51h1v7h-1zM14 0h1v7h-1zM14 65h1v3h-1zM15 38h1v8h-1zM16 59h1v9h-1zM17 23h1v8h-1zM18 32h1v8h-1zM19 49h1v12h-1zM20 0h1v3h-1zM20 44h1v9h-1zM21 11h1v4h-1zM21 49h1v10h-1zM22 0h1v9h-1zM22 17h1v8h-1zM22 25h1v12h-1zM24 8h1v12h-1zM24 53h1v5h-1zM25 18h1v5h-1zM26 60h1v8h-1zM27 67h1v1h-1zM28 8h1v3h-1zM28 11h1v4h-1zM28 24h1v10h-1zM28 61h1v7h-1zM29 13h1v5h-1zM29 33h1v5h-1zM30 36h1v9h-1zM31 9h1v7h-1zM32 0h1v3h-1zM32 63h1v5h-1zM33 43h1v12h-1zM34 51h1v12h-1zM34 63h1v5h-1zM35 17h1v3h-1zM35 32h1v4h-1zM37 43h1v8h-1zM38 46h1v5h-1zM38 51h1v11h-1zM38 62h1v6h-1zM39 0h1v4h-1zM39 46h1v5h-1zM41 26h1v12h-1zM41 38h1v10h-1zM41 48h1v12h-1zM42 26h1v11h-1zM42 60h1v4h-1zM43 18h1v8h-1zM44 7h1v12h-1zM46 29h1v4h-1zM47 24h1v8h-1zM47 58h1v10h-1zM48 35h1v10h-1zM49 0h1v5h-1zM51 28h1v11h-1zM51 39h1v9h-1zM52 16h1v8h-1zM52 42h1v3h-1zM54 44h1v8h-1zM55 22h1v12h-1zM55 52h1v10h-1zM55 62h1v6h-1zM56 42h1v7h-1zM57 38h1v5h-1zM57 52h1v3h-1zM58 43h1v9h-1zM58 60h1v8h-1zM60 0h1v12h-1zM60 25h1v4h-1zM60 36h1v4h-1zM61 10h1v11h-1zM62 48h1v11h-1zM63 63h1v5h-1zM64 41h1v7h-1zM65 0h1v6h-1zM65 30h1v6h-1zM65 36h1v4h-1zM67 25h1v6h-1zM68 7h1v10h-1zM68 46h1v12h-1zM69 14h1v3h-1zM70 62h1v6h-1zM71 9h1v8h-1zM71 17h1v6h-1zM72 22h1v8h-1zM72 44h1v3h-1zM73 30h1v7h-1zM73 55h1v7h-1zM74 0h1v5h-1zM74 5h1v10h-1zM74 48h1v7h-1zM74 55h1v5h-1zM75 20h1v10h-1zM76 0h1v10h-1zM76 23h1v12h-1zM77 12h1v6h-1zM77 18h1v4h-1zM78 27h1v5h-1zM78 43h1v4h-1zM79 0h1v7h-1zM80 20h1v9h-1zM80 29h1v12h-1zM81 14h1v3h-1zM81 21h1v8h-1zM81 49h1v10h-1zM82 27h1v6h-1zM82 33h1v5h-1zM82 49h1v12h-1zM83 21h1v7h-1zM83 28h1v5h-1zM84 0h1v6h-1zM84 17h1v7h-1zM85 46h1v8h-1zM86 54h1v10h-1zM88 12h1v7h-1zM89 0h1v5h-1zM89 36h1v3h-1zM90 20h1v10h-1zM90 45h1v12h-1zM91 19h1v10h-1zM92 0h1v12h-1zM92 43h1v10h-1zM92 53h1v9h-1zM93 0h1v10h-1zM94 0h1v11h-1zM95 40h1v4h-1zM95 66h1v2h-1zM96 31h1v10h-1zM99 39h1v4h-1zM99 43h1v5h-1zM100 27h1v6h-1zM101 42h1v5h-1zM101 47h1v4h-1zM102 30h1v9h-1zM102 64h1v4h-1zM103 51h1v3h-1zM104 30h1v11h-1zM104 65h1v3h-1zM105 10h1v12h-1zM105 34h1v9h-1zM107 13h1v3h-1zM107 42h1v9h-1zM107 60h1v8h-1zM108 26h1v7h-1zM110 20h1v8h-1zM110 53h1v9h-1zM112 32h1v4h-1zM113 14h1v5h-1zM113 19h1v9h-1zM113 28h1v8h-1zM115 21h1v5h-1zM115 39h1v9h-1zM116 16h1v3h-1zM117 21h1v4h-1zM118 0h1v6h-1zM119 18h1v12h-1zM119 67h1v1h-1zM120 0h1v4h-1zM120 51h1v10h-1zM122 27h1v3h-1zM122 30h1v8h-1zM122 58h1v8h-1zM123 0h1v3h-1zM123 34h1v8h-1zM123 42h1v11h-1zM124 35h1v8h-1zM125 63h1v5h-1zM127 33h1v4h-1zM127 42h1v10h-1zM129 28h1v8h-1zM129 56h1v8h-1zM129 64h1v4h-1zM130 21h1v11h-1zM130 54h1v12h-1zM131 32h1v7h-1zM132 54h1v9h-1zM132 63h1v5h-1zM133 42h1v10h-1zM139 52h1v8h-1zM140 10h1v10h-1zM140 42h1v8h-1zM141 27h1v7h-1zM141 63h1v5h-1zM142 4h1v10h-1zM143 50h1v12h-1zM144 3h1v5h-1zM144 23h1v4h-1zM145 35h1v11h-1zM145 46h1v6h-1zM147 9h1v10h-1zM148 0h1v10h-1zM148 22h1v8h-1zM148 63h1v4h-1zM148 67h1v1h-1zM149 14h1v12h-1zM150 15h1v7h-1zM150 22h1v4h-1zM151 18h1v8h-1zM151 50h1v9h-1zM152 5h1v11h-1zM152 35h1v3h-1zM154 0h1v10h-1zM154 10h1v5h-1zM154 34h1v9h-1zM155 34h1v4h-1zM156 34h1v8h-1zM156 53h1v3h-1zM157 0h1v5h-1zM157 20h1v12h-1zM157 38h1v5h-1zM157 54h1v11h-1zM158 17h1v12h-1zM159 5h1v7h-1zM159 21h1v9h-1zM159 46h1v4h-1zM160 60h1v8h-1zM161 0h1v9h-1zM161 31h1v4h-1zM161 40h1v4h-1zM161 57h1v8h-1zM162 0h1v8h-1zM162 30h1v7h-1zM163 13h1v7h-1zM167 0h1v12h-1zM168 50h1v9h-1zM169 0h1v11h-1zM169 18h1v7h-1zM170 0h1v7h-1zM170 24h1v10h-1zM170 61h1v7h-1zM172 7h1v10h-1zM173 0h1v9h-1zM174 43h1v11h-1zM175 8h1v10h-1zM175 26h1v11h-1zM175 47h1v8h-1zM177 10h1v6h-1zM177 43h1v12h-1zM178 21h1v9h-1zM178 30h1v12h-1zM179 38h1v3h-1zM179 60h1v8h-1zM180 37h1v6h-1zM180 43h1v3h-1zM180 66h1v2h-1z"/><path fill="#fff" fill-opacity="0.9" d="M2 10h1v8h-1zM2 34h1v3h-1zM4 20h1v9h-1zM6 6h1v4h-1zM6 52h1v8h-1zM7 16h1v12h-1zM8 53h1v12h-1zM12 0h1v11h-1zM13 39h1v12h-1zM13 58h1v4h-1zM13 62h1v6h-1zM14 43h1v12h-1zM15 0h1v4h-1zM15 46h1v7h-1zM15 53h1v3h-1zM15 56h1v4h-1zM16 15h1v9h-1zM17 11h1v12h-1zM18 23h1v9h-1zM19 16h1v6h-1zM20 18h1v8h-1zM20 40h1v4h-1zM21 15h1v11h-1zM21 59h1v4h-1zM22 65h1v3h-1zM23 11h1v11h-1zM25 0h1v5h-1zM25 13h1v5h-1zM25 56h1v4h-1zM26 13h1v3h-1zM27 42h1v8h-1zM29 0h1v4h-1zM30 15h1v9h-1zM31 38h1v7h-1zM31 45h1v10h-1zM32 18h1v4h-1zM33 15h1v5h-1zM35 29h1v3h-1zM35 47h1v6h-1zM35 60h1v8h-1zM36 19h1v4h-1zM37 39h1v4h-1zM38 12h1v12h-1zM39 28h1v11h-1zM39 51h1v3h-1zM39 54h1v12h-1zM40 35h1v11h-1zM42 6h1v3h-1zM42 9h1v7h-1zM42 64h1v3h-1zM43 31h1v7h-1zM43 45h1v4h-1zM44 0h1v7h-1zM45 6h1v7h-1zM45 36h1v10h-1zM45 57h1v5h-1zM45 66h1v2h-1zM46 33h1v6h-1zM46 46h1v7h-1zM46 53h1v5h-1zM47 43h1v7h-1zM48 45h1v12h-1zM49 8h1v3h-1zM49 11h1v3h-1zM49 44h1v5h-1zM50 23h1v10h-1zM53 47h1v10h-1zM55 34h1v9h-1zM55 43h1v9h-1zM56 6h1v8h-1zM56 26h1v6h-1zM56 66h1v2h-1zM58 52h1v8h-1zM59 0h1v10h-1zM59 27h1v8h-1zM60 29h1v7h-1zM60 40h1v5h-1zM60 45h1v3h-1zM63 0h1v11h-1zM63 42h1v7h-1zM64 0h1v12h-1zM64 20h1v4h-1zM64 34h1v7h-1zM64 59h1v9h-1zM65 10h1v12h-1zM66 10h1v11h-1zM66 21h1v10h-1zM67 0h1v5h-1zM69 60h1v8h-1zM70 0h1v8h-1zM70 35h1v10h-1zM71 39h1v12h-1zM72 0h1v6h-1zM72 47h1v12h-1zM73 44h1v11h-1zM74 40h1v8h-1zM75 0h1v6h-1zM75 41h1v4h-1zM76 67h1v1h-1zM78 11h1v8h-1zM78 22h1v5h-1zM79 22h1v4h-1zM80 54h1v12h-1zM81 59h1v4h-1zM83 13h1v8h-1zM84 37h1v8h-1zM85 36h1v10h-1zM86 39h1v7h-1zM86 46h1v8h-1zM86 64h1v4h-1zM87 67h1v1h-1zM89 5h1v10h-1zM89 59h1v8h-1zM91 41h1v5h-1zM92 12h1v3h-1zM93 10h1v12h-1zM95 31h1v9h-1zM95 48h1v6h-1zM97 10h1v10h-1zM97 39h1v5h-1zM98 0h1v3h-1zM98 47h1v3h-1zM100 46h1v4h-1zM100 50h1v12h-1zM101 9h1v7h-1zM101 16h1v9h-1zM101 25h1v5h-1zM102 39h1v4h-1zM102 61h1v3h-1zM103 8h1v11h-1zM103 19h1v11h-1zM104 41h1v4h-1zM104 57h1v8h-1zM106 25h1v6h-1zM109 19h1v10h-1zM110 31h1v12h-1zM111 0h1v5h-1zM111 28h1v11h-1zM111 53h1v5h-1zM111 63h1v5h-1zM112 0h1v8h-1zM112 8h1v6h-1zM112 23h1v4h-1zM112 66h1v2h-1zM113 4h1v10h-1zM113 44h1v8h-1zM113 63h1v5h-1zM114 0h1v11h-1zM114 49h1v9h-1zM116 0h1v5h-1zM116 19h1v9h-1zM116 28h1v5h-1zM116 54h1v6h-1zM116 60h1v8h-1zM117 36h1v7h-1zM117 54h1v9h-1zM119 0h1v6h-1zM119 38h1v11h-1zM119 55h1v4h-1zM119 59h1v8h-1zM120 40h1v11h-1zM122 12h1v5h-1zM124 8h1v12h-1zM124 28h1v7h-1zM124 58h1v3h-1zM126 11h1v10h-1zM126 47h1v6h-1zM127 24h1v9h-1zM128 14h1v12h-1zM128 52h1v12h-1zM130 0h1v10h-1zM130 32h1v8h-1zM131 61h1v7h-1zM132 16h1v11h-1zM132 33h1v10h-1zM133 21h1v11h-1zM134 20h1v3h-1zM135 39h1v8h-1zM135 50h1v9h-1zM136 34h1v7h-1zM136 62h1v6h-1zM137 6h1v4h-1zM137 46h1v9h-1zM137 61h1v7h-1zM138 0h1v11h-1zM139 12h1v12h-1zM140 7h1v3h-1zM141 0h1v9h-1zM141 56h1v7h-1zM143 4h1v10h-1zM143 62h1v6h-1zM144 0h1v3h-1zM144 57h1v5h-1zM144 62h1v6h-1zM145 67h1v1h-1zM146 15h1v3h-1zM146 44h1v5h-1zM147 19h1v5h-1zM147 48h1v10h-1zM150 46h1v3h-1zM151 59h1v6h-1zM152 16h1v8h-1zM152 63h1v5h-1zM153 11h1v6h-1zM153 17h1v3h-1zM153 54h1v5h-1zM154 26h1v3h-1zM154 29h1v5h-1zM154 61h1v7h-1zM155 0h1v10h-1zM155 56h1v4h-1zM156 0h1v12h-1zM156 17h1v5h-1zM157 43h1v11h-1zM158 29h1v11h-1zM159 12h1v9h-1zM160 0h1v4h-1zM161 54h1v3h-1zM164 9h1v11h-1zM164 53h1v8h-1zM165 41h1v12h-1zM166 12h1v10h-1zM166 50h1v12h-1zM166 67h1v1h-1zM167 29h1v5h-1zM167 34h1v11h-1zM169 25h1v11h-1zM169 64h1v4h-1zM170 14h1v10h-1zM170 42h1v11h-1zM171 19h1v3h-1zM171 40h1v4h-1zM171 44h1v8h-1zM172 40h1v11h-1zM172 67h1v1h-1zM173 17h1v11h-1zM173 65h1v3h-1zM175 0h1v8h-1zM176 9h1v4h-1zM176 55h1v10h-1zM176 65h1v3h-1zM177 22h1v12h-1zM178 64h1v4h-1zM179 12h1v7h-1zM179 45h1v5h-1zM180 8h1v12h-1zM180 20h1v4h-1zM180 46h1v4h-1z"/></pattern><mask id="t3" maskUnits="userSpaceOnUse" x="0" y="0" width="640" height="480"><rect width="640" height="480" fill="url(#p3)"/></mask>
<linearGradient id="gt" gradientUnits="userSpaceOnUse" x1="357" y1="0" x2="361" y2="0"><stop offset="0" stop-color="#000"/><stop offset="1" stop-color="#fff"/></linearGradient>
<linearGradient id="gb" gradientUnits="userSpaceOnUse" x1="359" y1="0" x2="367" y2="0"><stop offset="0" stop-color="#000"/><stop offset="1" stop-color="#fff"/></linearGradient>
<clipPath id="cp"><rect x="105" y="31" width="504" height="386"/></clipPath>
<mask id="mk" maskUnits="userSpaceOnUse" x="0" y="0" width="640" height="480">
<rect x="0" y="0" width="640" height="121" fill="url(#gt)"/>
<rect x="0" y="121" width="640" height="359" fill="url(#gb)"/>
</mask>
</defs>
<rect width="640" height="480" fill="#000"/>
<g shape-rendering="crispEdges">
<g clip-path="url(#cp)"><rect x="105" y="31" width="354" height="1" fill="#140000"/><rect x="105" y="32" width="354" height="3" fill="#ff2800"/><rect x="105" y="32" width="354" height="3" fill="#ff5a00" mask="url(#t1)"/><rect x="105" y="35" width="354" height="5" fill="#5500c3"/><rect x="105" y="35" width="354" height="5" fill="#6e0096" mask="url(#t2)"/><rect x="105" y="40" width="354" height="6" fill="#5f0087"/><rect x="105" y="40" width="354" height="6" fill="#82003c" mask="url(#t3)"/><rect x="105" y="46" width="354" height="7" fill="#7d0041"/><rect x="105" y="46" width="354" height="7" fill="#5f0082" mask="url(#t1)"/><rect x="105" y="53" width="354" height="8" fill="#910028"/><rect x="105" y="53" width="354" height="8" fill="#690073" mask="url(#t2)"/><rect x="105" y="61" width="354" height="8" fill="#c80000"/><rect x="105" y="61" width="354" height="8" fill="#af000a" mask="url(#t3)"/><rect x="105" y="69" width="354" height="2" fill="#ff8c1e"/><rect x="105" y="69" width="354" height="2" fill="#ffb43c" mask="url(#t1)"/><rect x="105" y="71" width="354" height="4" fill="#ffff73"/><rect x="105" y="71" width="354" height="4" fill="#ffffaa" mask="url(#t2)"/><rect x="105" y="75" width="354" height="5" fill="#ffc850"/><rect x="105" y="80" width="354" height="2" fill="#f5be32"/><rect x="105" y="80" width="354" height="2" fill="#c8d21e" mask="url(#t3)"/><rect x="105" y="82" width="354" height="3" fill="#e1f032"/><rect x="105" y="82" width="354" height="3" fill="#ffff5a" mask="url(#t1)"/><rect x="105" y="85" width="354" height="6" fill="#ff6414"/><rect x="105" y="85" width="354" height="6" fill="#ff9646" mask="url(#t2)"/><rect x="105" y="91" width="354" height="6" fill="#d70000"/><rect x="105" y="91" width="354" height="6" fill="#eb0a00" mask="url(#t3)"/><rect x="105" y="97" width="354" height="13" fill="#d40000"/><rect x="105" y="97" width="354" height="13" fill="#c30000" mask="url(#t1)"/><rect x="105" y="110" width="354" height="3" fill="#c80000"/><rect x="105" y="113" width="354" height="12" fill="#eb0800"/><rect x="105" y="113" width="354" height="12" fill="#dc0000" mask="url(#t2)"/><rect x="105" y="125" width="354" height="4" fill="#ff3200"/><rect x="105" y="125" width="354" height="4" fill="#ff5000" mask="url(#t3)"/><rect x="105" y="129" width="354" height="2" fill="#ff7832"/><rect x="105" y="131" width="354" height="7" fill="#ffa55f"/><rect x="105" y="131" width="354" height="7" fill="#ffbe7d" mask="url(#t1)"/><rect x="105" y="138" width="354" height="8" fill="#ff4800"/><rect x="105" y="138" width="354" height="8" fill="#ff5f14" mask="url(#t2)"/><rect x="105" y="146" width="354" height="7" fill="#ff3a00"/><rect x="105" y="146" width="354" height="7" fill="#fa2800" mask="url(#t3)"/><rect x="105" y="153" width="354" height="6" fill="#fc2a00"/><rect x="105" y="153" width="354" height="6" fill="#f01400" mask="url(#t1)"/><rect x="105" y="159" width="354" height="6" fill="#f51900"/><rect x="105" y="159" width="354" height="6" fill="#e60a00" mask="url(#t2)"/><rect x="105" y="165" width="354" height="7" fill="#e40500"/><rect x="105" y="165" width="354" height="7" fill="#d70000" mask="url(#t3)"/><rect x="105" y="172" width="354" height="9" fill="#fa0500"/><rect x="105" y="172" width="354" height="9" fill="#e60000" mask="url(#t1)"/><rect x="105" y="181" width="354" height="7" fill="#e40000"/><rect x="105" y="181" width="354" height="7" fill="#d20000" mask="url(#t2)"/><rect x="105" y="188" width="354" height="5" fill="#fa0500"/><rect x="105" y="188" width="354" height="5" fill="#e60000" mask="url(#t3)"/><rect x="105" y="193" width="354" height="16" fill="#d20000"/><rect x="105" y="193" width="354" height="16" fill="#c30000" mask="url(#t1)"/><rect x="105" y="209" width="354" height="8" fill="#eb0800"/><rect x="105" y="209" width="354" height="8" fill="#d70000" mask="url(#t2)"/><rect x="105" y="217" width="354" height="17" fill="#d40000"/><rect x="105" y="217" width="354" height="17" fill="#e60500" mask="url(#t3)"/><rect x="105" y="234" width="354" height="4" fill="#de0000"/><rect x="105" y="238" width="354" height="4" fill="#b4000a"/><rect x="105" y="238" width="354" height="4" fill="#960028" mask="url(#t1)"/><rect x="105" y="242" width="354" height="5" fill="#ff1900"/><rect x="105" y="242" width="354" height="5" fill="#f00a00" mask="url(#t2)"/><rect x="105" y="247" width="354" height="5" fill="#bc000a"/><rect x="105" y="247" width="354" height="5" fill="#a50019" mask="url(#t3)"/><rect x="105" y="252" width="354" height="4" fill="#d00000"/><rect x="105" y="252" width="354" height="4" fill="#b9000a" mask="url(#t1)"/><rect x="105" y="256" width="354" height="18" fill="#aa0014"/><rect x="105" y="256" width="354" height="18" fill="#870037" mask="url(#t2)"/><rect x="105" y="274" width="354" height="8" fill="#870037"/><rect x="105" y="274" width="354" height="8" fill="#5f0073" mask="url(#t3)"/><rect x="105" y="282" width="354" height="7" fill="#a5001e"/><rect x="105" y="282" width="354" height="7" fill="#870037" mask="url(#t1)"/><rect x="105" y="289" width="354" height="34" fill="#8c0032"/><rect x="105" y="289" width="354" height="34" fill="#64006e" mask="url(#t2)"/><rect x="105" y="323" width="354" height="6" fill="#8c0032"/><rect x="105" y="323" width="354" height="6" fill="#64006e" mask="url(#t3)"/><rect x="105" y="329" width="354" height="2" fill="#c8000a"/><rect x="105" y="331" width="354" height="5" fill="#eb0000"/><rect x="105" y="331" width="354" height="5" fill="#d20000" mask="url(#t1)"/><rect x="105" y="336" width="354" height="3" fill="#b40019"/><rect x="105" y="339" width="354" height="16" fill="#8c0032"/><rect x="105" y="339" width="354" height="16" fill="#64006e" mask="url(#t2)"/><rect x="105" y="355" width="354" height="4" fill="#c80014"/><rect x="105" y="355" width="354" height="4" fill="#a00023" mask="url(#t3)"/><rect x="105" y="359" width="354" height="36" fill="#870037"/><rect x="105" y="359" width="354" height="36" fill="#5f0073" mask="url(#t1)"/><rect x="105" y="395" width="354" height="9" fill="#8e0030"/><rect x="105" y="395" width="354" height="9" fill="#64006e" mask="url(#t2)"/><rect x="105" y="404" width="354" height="7" fill="#9b0026"/><rect x="105" y="404" width="354" height="7" fill="#73005f" mask="url(#t3)"/><rect x="105" y="411" width="354" height="6" fill="#a8001c"/><rect x="105" y="411" width="354" height="6" fill="#820041" mask="url(#t1)"/><rect x="105" y="75" width="5" height="2" fill="#e60000"/><rect x="105" y="77" width="5" height="3" fill="#910000"/><rect x="105" y="80" width="5" height="2" fill="#ff963c"/><rect x="114" y="75" width="4" height="2" fill="#e60000"/><rect x="114" y="77" width="4" height="3" fill="#910000"/><rect x="114" y="80" width="4" height="2" fill="#ff963c"/><rect x="122" y="75" width="5" height="2" fill="#e60000"/><rect x="122" y="77" width="5" height="3" fill="#910000"/><rect x="122" y="80" width="5" height="2" fill="#ff963c"/><rect x="131" y="75" width="5" height="2" fill="#e60000"/><rect x="131" y="77" width="5" height="3" fill="#910000"/><rect x="131" y="80" width="5" height="2" fill="#ff963c"/><rect x="139" y="75" width="6" height="2" fill="#e60000"/><rect x="139" y="77" width="6" height="3" fill="#910000"/><rect x="139" y="80" width="6" height="2" fill="#ff963c"/><rect x="148" y="75" width="6" height="2" fill="#e60000"/><rect x="148" y="77" width="6" height="3" fill="#910000"/><rect x="148" y="80" width="6" height="2" fill="#ff963c"/><rect x="156" y="75" width="5" height="2" fill="#e60000"/><rect x="156" y="77" width="5" height="3" fill="#910000"/><rect x="156" y="80" width="5" height="2" fill="#ff963c"/><rect x="164" y="75" width="5" height="2" fill="#e60000"/><rect x="164" y="77" width="5" height="3" fill="#910000"/><rect x="164" y="80" width="5" height="2" fill="#ff963c"/><rect x="172" y="75" width="5" height="2" fill="#e60000"/><rect x="172" y="77" width="5" height="3" fill="#910000"/><rect x="172" y="80" width="5" height="2" fill="#ff963c"/><rect x="181" y="75" width="6" height="2" fill="#e60000"/><rect x="181" y="77" width="6" height="3" fill="#910000"/><rect x="181" y="80" width="6" height="2" fill="#ff963c"/><rect x="189" y="75" width="4" height="2" fill="#e60000"/><rect x="189" y="77" width="4" height="3" fill="#910000"/><rect x="189" y="80" width="4" height="2" fill="#ff963c"/><rect x="197" y="75" width="6" height="2" fill="#e60000"/><rect x="197" y="77" width="6" height="3" fill="#910000"/><rect x="197" y="80" width="6" height="2" fill="#ff963c"/><rect x="205" y="75" width="4" height="2" fill="#e60000"/><rect x="205" y="77" width="4" height="3" fill="#910000"/><rect x="205" y="80" width="4" height="2" fill="#ff963c"/><rect x="214" y="75" width="4" height="2" fill="#e60000"/><rect x="214" y="77" width="4" height="3" fill="#910000"/><rect x="214" y="80" width="4" height="2" fill="#ff963c"/><rect x="222" y="75" width="5" height="2" fill="#e60000"/><rect x="222" y="77" width="5" height="3" fill="#910000"/><rect x="222" y="80" width="5" height="2" fill="#ff963c"/><rect x="231" y="75" width="5" height="2" fill="#e60000"/><rect x="231" y="77" width="5" height="3" fill="#910000"/><rect x="231" y="80" width="5" height="2" fill="#ff963c"/><rect x="240" y="75" width="5" height="2" fill="#e60000"/><rect x="240" y="77" width="5" height="3" fill="#910000"/><rect x="240" y="80" width="5" height="2" fill="#ff963c"/><rect x="248" y="75" width="5" height="2" fill="#e60000"/><rect x="248" y="77" width="5" height="3" fill="#910000"/><rect x="248" y="80" width="5" height="2" fill="#ff963c"/><rect x="256" y="75" width="5" height="2" fill="#e60000"/><rect x="256" y="77" width="5" height="3" fill="#910000"/><rect x="256" y="80" width="5" height="2" fill="#ff963c"/><rect x="264" y="75" width="5" height="2" fill="#e60000"/><rect x="264" y="77" width="5" height="3" fill="#910000"/><rect x="264" y="80" width="5" height="2" fill="#ff963c"/><rect x="273" y="75" width="6" height="2" fill="#e60000"/><rect x="273" y="77" width="6" height="3" fill="#910000"/><rect x="273" y="80" width="6" height="2" fill="#ff963c"/><rect x="281" y="75" width="5" height="2" fill="#e60000"/><rect x="281" y="77" width="5" height="3" fill="#910000"/><rect x="281" y="80" width="5" height="2" fill="#ff963c"/><rect x="289" y="75" width="5" height="2" fill="#e60000"/><rect x="289" y="77" width="5" height="3" fill="#910000"/><rect x="289" y="80" width="5" height="2" fill="#ff963c"/><rect x="298" y="75" width="5" height="2" fill="#e60000"/><rect x="298" y="77" width="5" height="3" fill="#910000"/><rect x="298" y="80" width="5" height="2" fill="#ff963c"/><rect x="306" y="75" width="4" height="2" fill="#e60000"/><rect x="306" y="77" width="4" height="3" fill="#910000"/><rect x="306" y="80" width="4" height="2" fill="#ff963c"/><rect x="314" y="75" width="5" height="2" fill="#e60000"/><rect x="314" y="77" width="5" height="3" fill="#910000"/><rect x="314" y="80" width="5" height="2" fill="#ff963c"/><rect x="322" y="75" width="5" height="2" fill="#e60000"/><rect x="322" y="77" width="5" height="3" fill="#910000"/><rect x="322" y="80" width="5" height="2" fill="#ff963c"/><rect x="331" y="75" width="6" height="2" fill="#e60000"/><rect x="331" y="77" width="6" height="3" fill="#910000"/><rect x="331" y="80" width="6" height="2" fill="#ff963c"/><rect x="339" y="75" width="5" height="2" fill="#e60000"/><rect x="339" y="77" width="5" height="3" fill="#910000"/><rect x="339" y="80" width="5" height="2" fill="#ff963c"/><rect x="348" y="75" width="5" height="2" fill="#e60000"/><rect x="348" y="77" width="5" height="3" fill="#910000"/><rect x="348" y="80" width="5" height="2" fill="#ff963c"/><rect x="356" y="75" width="4" height="2" fill="#e60000"/><rect x="356" y="77" width="4" height="3" fill="#910000"/><rect x="356" y="80" width="4" height="2" fill="#ff963c"/><rect x="106" y="324" width="1" height="4" fill="#ff9628"/><rect x="106" y="348" width="1" height="5" fill="#ff9628"/><rect x="108" y="324" width="1" height="4" fill="#ff9628"/><rect x="108" y="348" width="1" height="5" fill="#ff9628"/><rect x="117" y="324" width="1" height="4" fill="#ff9628"/><rect x="117" y="348" width="1" height="5" fill="#ff9628"/><rect x="118" y="324" width="1" height="4" fill="#ff9628"/><rect x="118" y="348" width="1" height="5" fill="#ff9628"/><rect x="123" y="324" width="1" height="4" fill="#ff9628"/><rect x="123" y="348" width="1" height="5" fill="#ff9628"/><rect x="125" y="324" width="1" height="4" fill="#ff9628"/><rect x="125" y="348" width="1" height="5" fill="#ff9628"/><rect x="127" y="324" width="1" height="4" fill="#ff9628"/><rect x="127" y="348" width="1" height="5" fill="#ff9628"/><rect x="129" y="324" width="1" height="4" fill="#ff9628"/><rect x="129" y="348" width="1" height="5" fill="#ff9628"/><rect x="133" y="324" width="1" height="4" fill="#ff9628"/><rect x="133" y="348" width="1" height="5" fill="#ff9628"/><rect x="143" y="324" width="1" height="4" fill="#ff9628"/><rect x="143" y="348" width="1" height="5" fill="#ff9628"/><rect x="147" y="324" width="1" height="4" fill="#ff9628"/><rect x="147" y="348" width="1" height="5" fill="#ff9628"/><rect x="148" y="324" width="1" height="4" fill="#ff9628"/><rect x="148" y="348" width="1" height="5" fill="#ff9628"/><rect x="153" y="324" width="1" height="4" fill="#ff9628"/><rect x="153" y="348" width="1" height="5" fill="#ff9628"/><rect x="162" y="324" width="1" height="4" fill="#ff9628"/><rect x="162" y="348" width="1" height="5" fill="#ff9628"/><rect x="177" y="324" width="1" height="4" fill="#ff9628"/><rect x="177" y="348" width="1" height="5" fill="#ff9628"/><rect x="182" y="324" width="1" height="4" fill="#ff9628"/><rect x="182" y="348" width="1" height="5" fill="#ff9628"/><rect x="184" y="324" width="1" height="4" fill="#ff9628"/><rect x="184" y="348" width="1" height="5" fill="#ff9628"/><rect x="189" y="324" width="1" height="4" fill="#ff9628"/><rect x="189" y="348" width="1" height="5" fill="#ff9628"/><rect x="191" y="324" width="1" height="4" fill="#ff9628"/><rect x="191" y="348" width="1" height="5" fill="#ff9628"/><rect x="198" y="324" width="1" height="4" fill="#ff9628"/><rect x="198" y="348" width="1" height="5" fill="#ff9628"/><rect x="205" y="324" width="1" height="4" fill="#ff9628"/><rect x="205" y="348" width="1" height="5" fill="#ff9628"/><rect x="207" y="324" width="1" height="4" fill="#ff9628"/><rect x="207" y="348" width="1" height="5" fill="#ff9628"/><rect x="210" y="324" width="1" height="4" fill="#ff9628"/><rect x="210" y="348" width="1" height="5" fill="#ff9628"/><rect x="214" y="324" width="1" height="4" fill="#ff9628"/><rect x="214" y="348" width="1" height="5" fill="#ff9628"/><rect x="216" y="324" width="1" height="4" fill="#ff9628"/><rect x="216" y="348" width="1" height="5" fill="#ff9628"/><rect x="221" y="324" width="1" height="4" fill="#ff9628"/><rect x="221" y="348" width="1" height="5" fill="#ff9628"/><rect x="226" y="324" width="1" height="4" fill="#ff9628"/><rect x="226" y="348" width="1" height="5" fill="#ff9628"/><rect x="235" y="324" width="1" height="4" fill="#ff9628"/><rect x="235" y="348" width="1" height="5" fill="#ff9628"/><rect x="239" y="324" width="1" height="4" fill="#ff9628"/><rect x="239" y="348" width="1" height="5" fill="#ff9628"/><rect x="242" y="324" width="1" height="4" fill="#ff9628"/><rect x="242" y="348" width="1" height="5" fill="#ff9628"/><rect x="247" y="324" width="1" height="4" fill="#ff9628"/><rect x="247" y="348" width="1" height="5" fill="#ff9628"/><rect x="250" y="324" width="1" height="4" fill="#ff9628"/><rect x="250" y="348" width="1" height="5" fill="#ff9628"/><rect x="254" y="324" width="1" height="4" fill="#ff9628"/><rect x="254" y="348" width="1" height="5" fill="#ff9628"/><rect x="263" y="324" width="1" height="4" fill="#ff9628"/><rect x="263" y="348" width="1" height="5" fill="#ff9628"/><rect x="290" y="324" width="1" height="4" fill="#ff9628"/><rect x="290" y="348" width="1" height="5" fill="#ff9628"/><rect x="293" y="324" width="1" height="4" fill="#ff9628"/><rect x="293" y="348" width="1" height="5" fill="#ff9628"/><rect x="298" y="324" width="1" height="4" fill="#ff9628"/><rect x="298" y="348" width="1" height="5" fill="#ff9628"/><rect x="303" y="324" width="1" height="4" fill="#ff9628"/><rect x="303" y="348" width="1" height="5" fill="#ff9628"/><rect x="317" y="324" width="1" height="4" fill="#ff9628"/><rect x="317" y="348" width="1" height="5" fill="#ff9628"/><rect x="321" y="324" width="1" height="4" fill="#ff9628"/><rect x="321" y="348" width="1" height="5" fill="#ff9628"/><rect x="329" y="324" width="1" height="4" fill="#ff9628"/><rect x="329" y="348" width="1" height="5" fill="#ff9628"/><rect x="331" y="324" width="1" height="4" fill="#ff9628"/><rect x="331" y="348" width="1" height="5" fill="#ff9628"/><rect x="335" y="324" width="1" height="4" fill="#ff9628"/><rect x="335" y="348" width="1" height="5" fill="#ff9628"/><rect x="340" y="324" width="1" height="4" fill="#ff9628"/><rect x="340" y="348" width="1" height="5" fill="#ff9628"/><rect x="344" y="324" width="1" height="4" fill="#ff9628"/><rect x="344" y="348" width="1" height="5" fill="#ff9628"/><rect x="346" y="324" width="1" height="4" fill="#ff9628"/><rect x="346" y="348" width="1" height="5" fill="#ff9628"/><rect x="350" y="324" width="1" height="4" fill="#ff9628"/><rect x="350" y="348" width="1" height="5" fill="#ff9628"/><rect x="357" y="324" width="1" height="4" fill="#ff9628"/><rect x="357" y="348" width="1" height="5" fill="#ff9628"/><rect x="107" y="211" width="1" height="2" fill="#ff2d00"/><rect x="109" y="212" width="1" height="4" fill="#ff2d00"/><rect x="111" y="211" width="1" height="3" fill="#ff2d00"/><rect x="112" y="212" width="1" height="2" fill="#ff2d00"/><rect x="114" y="212" width="1" height="2" fill="#ff2d00"/><rect x="115" y="211" width="1" height="2" fill="#ff2d00"/><rect x="117" y="212" width="1" height="2" fill="#ff2d00"/><rect x="118" y="211" width="1" height="2" fill="#ff2d00"/><rect x="124" y="211" width="1" height="4" fill="#ff2d00"/><rect x="125" y="211" width="1" height="2" fill="#ff2d00"/><rect x="131" y="211" width="1" height="3" fill="#ff2d00"/><rect x="133" y="212" width="1" height="4" fill="#ff2d00"/><rect x="136" y="212" width="1" height="3" fill="#ff2d00"/><rect x="141" y="212" width="1" height="4" fill="#ff2d00"/><rect x="142" y="212" width="1" height="3" fill="#ff2d00"/><rect x="143" y="212" width="1" height="2" fill="#ff2d00"/><rect x="147" y="211" width="1" height="2" fill="#ff2d00"/><rect x="153" y="212" width="1" height="2" fill="#ff2d00"/><rect x="156" y="211" width="1" height="2" fill="#ff2d00"/><rect x="157" y="212" width="1" height="2" fill="#ff2d00"/><rect x="160" y="211" width="1" height="2" fill="#ff2d00"/><rect x="161" y="211" width="1" height="2" fill="#ff2d00"/><rect x="162" y="211" width="1" height="2" fill="#ff2d00"/><rect x="164" y="212" width="1" height="4" fill="#ff2d00"/><rect x="168" y="211" width="1" height="3" fill="#ff2d00"/><rect x="170" y="212" width="1" height="3" fill="#ff2d00"/><rect x="172" y="212" width="1" height="2" fill="#ff2d00"/><rect x="173" y="211" width="1" height="2" fill="#ff2d00"/><rect x="174" y="211" width="1" height="4" fill="#ff2d00"/><rect x="175" y="211" width="1" height="3" fill="#ff2d00"/><rect x="176" y="212" width="1" height="3" fill="#ff2d00"/><rect x="181" y="212" width="1" height="3" fill="#ff2d00"/><rect x="182" y="211" width="1" height="4" fill="#ff2d00"/><rect x="183" y="211" width="1" height="3" fill="#ff2d00"/><rect x="198" y="211" width="1" height="3" fill="#ff2d00"/><rect x="200" y="212" width="1" height="4" fill="#ff2d00"/><rect x="201" y="211" width="1" height="4" fill="#ff2d00"/><rect x="202" y="211" width="1" height="4" fill="#ff2d00"/><rect x="204" y="211" width="1" height="4" fill="#ff2d00"/><rect x="206" y="212" width="1" height="2" fill="#ff2d00"/><rect x="208" y="212" width="1" height="3" fill="#ff2d00"/><rect x="211" y="212" width="1" height="4" fill="#ff2d00"/><rect x="218" y="212" width="1" height="2" fill="#ff2d00"/><rect x="219" y="212" width="1" height="4" fill="#ff2d00"/><rect x="225" y="212" width="1" height="4" fill="#ff2d00"/><rect x="227" y="212" width="1" height="2" fill="#ff2d00"/><rect x="230" y="212" width="1" height="2" fill="#ff2d00"/><rect x="231" y="212" width="1" height="4" fill="#ff2d00"/><rect x="235" y="211" width="1" height="2" fill="#ff2d00"/><rect x="240" y="212" width="1" height="2" fill="#ff2d00"/><rect x="244" y="211" width="1" height="2" fill="#ff2d00"/><rect x="245" y="211" width="1" height="3" fill="#ff2d00"/><rect x="248" y="211" width="1" height="4" fill="#ff2d00"/><rect x="252" y="211" width="1" height="2" fill="#ff2d00"/><rect x="260" y="212" width="1" height="4" fill="#ff2d00"/><rect x="264" y="212" width="1" height="4" fill="#ff2d00"/><rect x="267" y="212" width="1" height="3" fill="#ff2d00"/><rect x="271" y="211" width="1" height="3" fill="#ff2d00"/><rect x="272" y="212" width="1" height="4" fill="#ff2d00"/><rect x="273" y="211" width="1" height="3" fill="#ff2d00"/><rect x="275" y="211" width="1" height="2" fill="#ff2d00"/><rect x="276" y="212" width="1" height="3" fill="#ff2d00"/><rect x="278" y="212" width="1" height="2" fill="#ff2d00"/><rect x="279" y="212" width="1" height="4" fill="#ff2d00"/><rect x="280" y="211" width="1" height="4" fill="#ff2d00"/><rect x="282" y="211" width="1" height="3" fill="#ff2d00"/><rect x="283" y="212" width="1" height="2" fill="#ff2d00"/><rect x="284" y="211" width="1" height="4" fill="#ff2d00"/><rect x="288" y="211" width="1" height="4" fill="#ff2d00"/><rect x="290" y="211" width="1" height="4" fill="#ff2d00"/><rect x="294" y="211" width="1" height="3" fill="#ff2d00"/><rect x="296" y="211" width="1" height="4" fill="#ff2d00"/><rect x="297" y="212" width="1" height="4" fill="#ff2d00"/><rect x="300" y="212" width="1" height="3" fill="#ff2d00"/><rect x="304" y="211" width="1" height="2" fill="#ff2d00"/><rect x="306" y="212" width="1" height="4" fill="#ff2d00"/><rect x="307" y="212" width="1" height="3" fill="#ff2d00"/><rect x="309" y="211" width="1" height="2" fill="#ff2d00"/><rect x="310" y="211" width="1" height="4" fill="#ff2d00"/><rect x="312" y="211" width="1" height="2" fill="#ff2d00"/><rect x="318" y="212" width="1" height="2" fill="#ff2d00"/><rect x="324" y="212" width="1" height="3" fill="#ff2d00"/><rect x="326" y="211" width="1" height="2" fill="#ff2d00"/><rect x="327" y="211" width="1" height="3" fill="#ff2d00"/><rect x="338" y="212" width="1" height="3" fill="#ff2d00"/><rect x="340" y="211" width="1" height="4" fill="#ff2d00"/><rect x="344" y="212" width="1" height="4" fill="#ff2d00"/><rect x="345" y="211" width="1" height="3" fill="#ff2d00"/><rect x="346" y="211" width="1" height="3" fill="#ff2d00"/><rect x="347" y="212" width="1" height="2" fill="#ff2d00"/><rect x="353" y="211" width="1" height="4" fill="#ff2d00"/><rect x="354" y="212" width="1" height="4" fill="#ff2d00"/><rect x="106" y="219" width="1" height="2" fill="#ff2800"/><rect x="109" y="219" width="1" height="3" fill="#ff2800"/><rect x="112" y="218" width="1" height="2" fill="#ff2800"/><rect x="114" y="219" width="1" height="5" fill="#ff2800"/><rect x="115" y="219" width="1" height="3" fill="#ff2800"/><rect x="116" y="218" width="1" height="5" fill="#ff2800"/><rect x="125" y="218" width="1" height="2" fill="#ff2800"/><rect x="129" y="218" width="1" height="4" fill="#ff2800"/><rect x="134" y="219" width="1" height="5" fill="#ff2800"/><rect x="138" y="219" width="1" height="4" fill="#ff2800"/><rect x="140" y="218" width="1" height="5" fill="#ff2800"/><rect x="149" y="219" width="1" height="2" fill="#ff2800"/><rect x="154" y="219" width="1" height="3" fill="#ff2800"/><rect x="158" y="219" width="1" height="4" fill="#ff2800"/><rect x="159" y="219" width="1" height="4" fill="#ff2800"/><rect x="164" y="219" width="1" height="2" fill="#ff2800"/><rect x="174" y="218" width="1" height="3" fill="#ff2800"/><rect x="175" y="219" width="1" height="2" fill="#ff2800"/><rect x="181" y="218" width="1" height="3" fill="#ff2800"/><rect x="185" y="219" width="1" height="5" fill="#ff2800"/><rect x="197" y="218" width="1" height="2" fill="#ff2800"/><rect x="198" y="219" width="1" height="4" fill="#ff2800"/><rect x="199" y="219" width="1" height="4" fill="#ff2800"/><rect x="200" y="218" width="1" height="4" fill="#ff2800"/><rect x="206" y="218" width="1" height="5" fill="#ff2800"/><rect x="209" y="218" width="1" height="5" fill="#ff2800"/><rect x="210" y="218" width="1" height="3" fill="#ff2800"/><rect x="211" y="219" width="1" height="2" fill="#ff2800"/><rect x="215" y="218" width="1" height="5" fill="#ff2800"/><rect x="216" y="218" width="1" height="5" fill="#ff2800"/><rect x="220" y="219" width="1" height="3" fill="#ff2800"/><rect x="222" y="218" width="1" height="3" fill="#ff2800"/><rect x="230" y="218" width="1" height="2" fill="#ff2800"/><rect x="233" y="219" width="1" height="5" fill="#ff2800"/><rect x="241" y="218" width="1" height="4" fill="#ff2800"/><rect x="242" y="218" width="1" height="4" fill="#ff2800"/><rect x="244" y="219" width="1" height="3" fill="#ff2800"/><rect x="246" y="219" width="1" height="5" fill="#ff2800"/><rect x="249" y="218" width="1" height="3" fill="#ff2800"/><rect x="250" y="218" width="1" height="5" fill="#ff2800"/><rect x="252" y="218" width="1" height="3" fill="#ff2800"/><rect x="254" y="219" width="1" height="4" fill="#ff2800"/><rect x="255" y="218" width="1" height="5" fill="#ff2800"/><rect x="258" y="218" width="1" height="2" fill="#ff2800"/><rect x="266" y="218" width="1" height="2" fill="#ff2800"/><rect x="267" y="219" width="1" height="2" fill="#ff2800"/><rect x="268" y="219" width="1" height="3" fill="#ff2800"/><rect x="274" y="219" width="1" height="2" fill="#ff2800"/><rect x="283" y="218" width="1" height="5" fill="#ff2800"/><rect x="284" y="219" width="1" height="3" fill="#ff2800"/><rect x="303" y="219" width="1" height="3" fill="#ff2800"/><rect x="308" y="219" width="1" height="5" fill="#ff2800"/><rect x="309" y="218" width="1" height="5" fill="#ff2800"/><rect x="312" y="218" width="1" height="2" fill="#ff2800"/><rect x="313" y="218" width="1" height="2" fill="#ff2800"/><rect x="316" y="219" width="1" height="5" fill="#ff2800"/><rect x="318" y="219" width="1" height="3" fill="#ff2800"/><rect x="324" y="219" width="1" height="4" fill="#ff2800"/><rect x="327" y="219" width="1" height="2" fill="#ff2800"/><rect x="328" y="219" width="1" height="3" fill="#ff2800"/><rect x="334" y="219" width="1" height="5" fill="#ff2800"/><rect x="335" y="219" width="1" height="2" fill="#ff2800"/><rect x="337" y="219" width="1" height="4" fill="#ff2800"/><rect x="338" y="219" width="1" height="5" fill="#ff2800"/><rect x="340" y="219" width="1" height="4" fill="#ff2800"/><rect x="345" y="219" width="1" height="2" fill="#ff2800"/><rect x="348" y="219" width="1" height="2" fill="#ff2800"/><rect x="351" y="218" width="1" height="2" fill="#ff2800"/><rect x="353" y="218" width="1" height="5" fill="#ff2800"/><rect x="111" y="225" width="1" height="3" fill="#fa1e00"/><rect x="112" y="225" width="1" height="2" fill="#fa1e00"/><rect x="113" y="226" width="1" height="2" fill="#fa1e00"/><rect x="120" y="226" width="1" height="4" fill="#fa1e00"/><rect x="124" y="226" width="1" height="2" fill="#fa1e00"/><rect x="126" y="226" width="1" height="2" fill="#fa1e00"/><rect x="127" y="225" width="1" height="2" fill="#fa1e00"/><rect x="135" y="225" width="1" height="2" fill="#fa1e00"/><rect x="136" y="225" width="1" height="3" fill="#fa1e00"/><rect x="138" y="225" width="1" height="4" fill="#fa1e00"/><rect x="139" y="225" width="1" height="2" fill="#fa1e00"/><rect x="140" y="225" width="1" height="3" fill="#fa1e00"/><rect x="141" y="226" width="1" height="4" fill="#fa1e00"/><rect x="144" y="226" width="1" height="3" fill="#fa1e00"/><rect x="146" y="226" width="1" height="3" fill="#fa1e00"/><rect x="150" y="226" width="1" height="2" fill="#fa1e00"/><rect x="158" y="225" width="1" height="4" fill="#fa1e00"/><rect x="165" y="225" width="1" height="2" fill="#fa1e00"/><rect x="168" y="225" width="1" height="3" fill="#fa1e00"/><rect x="169" y="225" width="1" height="3" fill="#fa1e00"/><rect x="170" y="226" width="1" height="3" fill="#fa1e00"/><rect x="174" y="225" width="1" height="2" fill="#fa1e00"/><rect x="177" y="225" width="1" height="4" fill="#fa1e00"/><rect x="179" y="225" width="1" height="4" fill="#fa1e00"/><rect x="180" y="226" width="1" height="4" fill="#fa1e00"/><rect x="184" y="225" width="1" height="2" fill="#fa1e00"/><rect x="186" y="225" width="1" height="4" fill="#fa1e00"/><rect x="202" y="225" width="1" height="3" fill="#fa1e00"/><rect x="212" y="226" width="1" height="4" fill="#fa1e00"/><rect x="213" y="225" width="1" height="3" fill="#fa1e00"/><rect x="217" y="226" width="1" height="2" fill="#fa1e00"/><rect x="218" y="226" width="1" height="3" fill="#fa1e00"/><rect x="220" y="225" width="1" height="3" fill="#fa1e00"/><rect x="227" y="225" width="1" height="2" fill="#fa1e00"/><rect x="230" y="226" width="1" height="3" fill="#fa1e00"/><rect x="231" y="225" width="1" height="2" fill="#fa1e00"/><rect x="241" y="225" width="1" height="2" fill="#fa1e00"/><rect x="243" y="226" width="1" height="3" fill="#fa1e00"/><rect x="249" y="225" width="1" height="4" fill="#fa1e00"/><rect x="270" y="226" width="1" height="3" fill="#fa1e00"/><rect x="271" y="225" width="1" height="3" fill="#fa1e00"/><rect x="272" y="225" width="1" height="2" fill="#fa1e00"/><rect x="273" y="225" width="1" height="2" fill="#fa1e00"/><rect x="274" y="226" width="1" height="3" fill="#fa1e00"/><rect x="285" y="225" width="1" height="4" fill="#fa1e00"/><rect x="291" y="225" width="1" height="2" fill="#fa1e00"/><rect x="296" y="225" width="1" height="3" fill="#fa1e00"/><rect x="297" y="226" width="1" height="3" fill="#fa1e00"/><rect x="300" y="226" width="1" height="2" fill="#fa1e00"/><rect x="302" y="225" width="1" height="3" fill="#fa1e00"/><rect x="312" y="225" width="1" height="4" fill="#fa1e00"/><rect x="313" y="226" width="1" height="4" fill="#fa1e00"/><rect x="318" y="225" width="1" height="3" fill="#fa1e00"/><rect x="319" y="225" width="1" height="2" fill="#fa1e00"/><rect x="324" y="225" width="1" height="2" fill="#fa1e00"/><rect x="325" y="226" width="1" height="3" fill="#fa1e00"/><rect x="329" y="225" width="1" height="4" fill="#fa1e00"/><rect x="336" y="226" width="1" height="2" fill="#fa1e00"/><rect x="339" y="225" width="1" height="2" fill="#fa1e00"/><rect x="340" y="225" width="1" height="2" fill="#fa1e00"/><rect x="346" y="225" width="1" height="3" fill="#fa1e00"/><rect x="349" y="225" width="1" height="2" fill="#fa1e00"/><rect x="352" y="225" width="1" height="4" fill="#fa1e00"/><rect x="106" y="284" width="1" height="6" fill="#eb0a00"/><rect x="107" y="284" width="1" height="2" fill="#eb0a00"/><rect x="108" y="284" width="1" height="4" fill="#eb0a00"/><rect x="112" y="284" width="1" height="6" fill="#eb0a00"/><rect x="113" y="283" width="1" height="4" fill="#eb0a00"/><rect x="114" y="283" width="1" height="4" fill="#eb0a00"/><rect x="115" y="283" width="1" height="2" fill="#eb0a00"/><rect x="116" y="283" width="1" height="4" fill="#eb0a00"/><rect x="117" y="284" width="1" height="2" fill="#eb0a00"/><rect x="123" y="283" width="1" height="5" fill="#eb0a00"/><rect x="130" y="284" width="1" height="4" fill="#eb0a00"/><rect x="131" y="283" width="1" height="2" fill="#eb0a00"/><rect x="133" y="283" width="1" height="6" fill="#eb0a00"/><rect x="134" y="284" width="1" height="6" fill="#eb0a00"/><rect x="135" y="283" width="1" height="3" fill="#eb0a00"/><rect x="136" y="283" width="1" height="3" fill="#eb0a00"/><rect x="138" y="283" width="1" height="2" fill="#eb0a00"/><rect x="145" y="284" width="1" height="4" fill="#eb0a00"/><rect x="149" y="283" width="1" height="3" fill="#eb0a00"/><rect x="153" y="283" width="1" height="2" fill="#eb0a00"/><rect x="154" y="283" width="1" height="6" fill="#eb0a00"/><rect x="155" y="283" width="1" height="4" fill="#eb0a00"/><rect x="160" y="283" width="1" height="6" fill="#eb0a00"/><rect x="161" y="283" width="1" height="2" fill="#eb0a00"/><rect x="164" y="284" width="1" height="5" fill="#eb0a00"/><rect x="167" y="284" width="1" height="3" fill="#eb0a00"/><rect x="169" y="283" width="1" height="5" fill="#eb0a00"/><rect x="170" y="284" width="1" height="5" fill="#eb0a00"/><rect x="173" y="284" width="1" height="3" fill="#eb0a00"/><rect x="181" y="284" width="1" height="3" fill="#eb0a00"/><rect x="182" y="284" width="1" height="3" fill="#eb0a00"/><rect x="185" y="283" width="1" height="3" fill="#eb0a00"/><rect x="187" y="283" width="1" height="5" fill="#eb0a00"/><rect x="197" y="283" width="1" height="2" fill="#eb0a00"/><rect x="202" y="284" width="1" height="4" fill="#eb0a00"/><rect x="203" y="284" width="1" height="6" fill="#eb0a00"/><rect x="208" y="284" width="1" height="5" fill="#eb0a00"/><rect x="211" y="283" width="1" height="3" fill="#eb0a00"/><rect x="216" y="284" width="1" height="4" fill="#eb0a00"/><rect x="217" y="284" width="1" height="6" fill="#eb0a00"/><rect x="220" y="283" width="1" height="2" fill="#eb0a00"/><rect x="221" y="283" width="1" height="3" fill="#eb0a00"/><rect x="223" y="284" width="1" height="5" fill="#eb0a00"/><rect x="228" y="284" width="1" height="4" fill="#eb0a00"/><rect x="232" y="283" width="1" height="2" fill="#eb0a00"/><rect x="237" y="284" width="1" height="4" fill="#eb0a00"/><rect x="242" y="284" width="1" height="5" fill="#eb0a00"/><rect x="245" y="284" width="1" height="3" fill="#eb0a00"/><rect x="246" y="284" width="1" height="6" fill="#eb0a00"/><rect x="248" y="283" width="1" height="2" fill="#eb0a00"/><rect x="251" y="284" width="1" height="2" fill="#eb0a00"/><rect x="252" y="284" width="1" height="6" fill="#eb0a00"/><rect x="254" y="283" width="1" height="2" fill="#eb0a00"/><rect x="256" y="283" width="1" height="5" fill="#eb0a00"/><rect x="257" y="283" width="1" height="5" fill="#eb0a00"/><rect x="259" y="283" width="1" height="2" fill="#eb0a00"/><rect x="262" y="283" width="1" height="6" fill="#eb0a00"/><rect x="265" y="284" width="1" height="5" fill="#eb0a00"/><rect x="267" y="283" width="1" height="4" fill="#eb0a00"/><rect x="271" y="284" width="1" height="3" fill="#eb0a00"/><rect x="273" y="284" width="1" height="6" fill="#eb0a00"/><rect x="275" y="284" width="1" height="6" fill="#eb0a00"/><rect x="276" y="283" width="1" height="2" fill="#eb0a00"/><rect x="278" y="284" width="1" height="6" fill="#eb0a00"/><rect x="279" y="284" width="1" height="3" fill="#eb0a00"/><rect x="280" y="283" width="1" height="6" fill="#eb0a00"/><rect x="287" y="283" width="1" height="2" fill="#eb0a00"/><rect x="289" y="283" width="1" height="5" fill="#eb0a00"/><rect x="290" y="284" width="1" height="3" fill="#eb0a00"/><rect x="295" y="283" width="1" height="4" fill="#eb0a00"/><rect x="299" y="284" width="1" height="4" fill="#eb0a00"/><rect x="307" y="284" width="1" height="3" fill="#eb0a00"/><rect x="309" y="284" width="1" height="2" fill="#eb0a00"/><rect x="312" y="283" width="1" height="6" fill="#eb0a00"/><rect x="313" y="283" width="1" height="4" fill="#eb0a00"/><rect x="314" y="284" width="1" height="6" fill="#eb0a00"/><rect x="315" y="284" width="1" height="2" fill="#eb0a00"/><rect x="317" y="283" width="1" height="4" fill="#eb0a00"/><rect x="318" y="284" width="1" height="6" fill="#eb0a00"/><rect x="320" y="283" width="1" height="4" fill="#eb0a00"/><rect x="324" y="284" width="1" height="4" fill="#eb0a00"/><rect x="326" y="284" width="1" height="4" fill="#eb0a00"/><rect x="327" y="284" width="1" height="3" fill="#eb0a00"/><rect x="328" y="284" width="1" height="4" fill="#eb0a00"/><rect x="331" y="284" width="1" height="4" fill="#eb0a00"/><rect x="333" y="284" width="1" height="6" fill="#eb0a00"/><rect x="335" y="284" width="1" height="4" fill="#eb0a00"/><rect x="336" y="283" width="1" height="5" fill="#eb0a00"/><rect x="341" y="283" width="1" height="4" fill="#eb0a00"/><rect x="345" y="283" width="1" height="3" fill="#eb0a00"/><rect x="348" y="283" width="1" height="3" fill="#eb0a00"/><rect x="356" y="283" width="1" height="4" fill="#eb0a00"/><rect x="115" y="300" width="1" height="3" fill="#dc000a"/><rect x="118" y="300" width="1" height="4" fill="#dc000a"/><rect x="132" y="299" width="1" height="2" fill="#dc000a"/><rect x="134" y="300" width="1" height="3" fill="#dc000a"/><rect x="140" y="300" width="1" height="4" fill="#dc000a"/><rect x="146" y="299" width="1" height="4" fill="#dc000a"/><rect x="152" y="299" width="1" height="3" fill="#dc000a"/><rect x="158" y="300" width="1" height="4" fill="#dc000a"/><rect x="164" y="300" width="1" height="2" fill="#dc000a"/><rect x="184" y="299" width="1" height="2" fill="#dc000a"/><rect x="187" y="299" width="1" height="4" fill="#dc000a"/><rect x="188" y="300" width="1" height="3" fill="#dc000a"/><rect x="190" y="299" width="1" height="2" fill="#dc000a"/><rect x="204" y="299" width="1" height="2" fill="#dc000a"/><rect x="215" y="299" width="1" height="3" fill="#dc000a"/><rect x="224" y="300" width="1" height="4" fill="#dc000a"/><rect x="225" y="299" width="1" height="4" fill="#dc000a"/><rect x="229" y="299" width="1" height="4" fill="#dc000a"/><rect x="244" y="300" width="1" height="4" fill="#dc000a"/><rect x="252" y="299" width="1" height="2" fill="#dc000a"/><rect x="255" y="299" width="1" height="4" fill="#dc000a"/><rect x="267" y="300" width="1" height="3" fill="#dc000a"/><rect x="274" y="299" width="1" height="2" fill="#dc000a"/><rect x="288" y="299" width="1" height="2" fill="#dc000a"/><rect x="325" y="300" width="1" height="4" fill="#dc000a"/><rect x="332" y="299" width="1" height="4" fill="#dc000a"/><rect x="338" y="299" width="1" height="2" fill="#dc000a"/><rect x="347" y="299" width="1" height="3" fill="#dc000a"/><rect x="351" y="299" width="1" height="3" fill="#dc000a"/><rect x="353" y="300" width="1" height="2" fill="#dc000a"/><rect x="354" y="300" width="1" height="2" fill="#dc000a"/><rect x="303" y="290" width="15" height="3" fill="#ffaf55"/><rect x="303" y="293" width="15" height="2" fill="#ff1900"/><rect x="298" y="293" width="1" height="5" fill="#ffc83c"/><rect x="325" y="294" width="1" height="4" fill="#ffc83c"/><rect x="304" y="94" width="3" height="2" fill="#ff5000"/><rect x="304" y="96" width="3" height="4" fill="#a5b914"/><rect x="304" y="100" width="3" height="2" fill="#ff5000"/><rect x="296" y="85" width="2" height="6" fill="#c8be1e"/><rect x="300" y="85" width="1" height="6" fill="#fff078"/><rect x="105" y="412" width="28" height="2" fill="#ff1400"/><rect x="105" y="414" width="28" height="3" fill="#ff6e14"/></g>
<g mask="url(#mk)" clip-path="url(#cp)"><rect x="340" y="31" width="269" height="1" fill="#0a000a"/><rect x="340" y="32" width="269" height="1" fill="#c80000"/><rect x="340" y="33" width="269" height="2" fill="#5a0096"/><rect x="340" y="35" width="269" height="4" fill="#0000c8"/><rect x="340" y="35" width="269" height="4" fill="#000096" mask="url(#t1)"/><rect x="340" y="39" width="269" height="17" fill="#000041"/><rect x="340" y="39" width="269" height="17" fill="#000064" mask="url(#t2)"/><rect x="340" y="56" width="269" height="7" fill="#0000a0"/><rect x="340" y="56" width="269" height="7" fill="#00006e" mask="url(#t3)"/><rect x="340" y="63" width="269" height="2" fill="#0000aa"/><rect x="340" y="63" width="269" height="2" fill="#0000dc" mask="url(#t1)"/><rect x="340" y="65" width="269" height="2" fill="#0000a0"/><rect x="340" y="65" width="269" height="2" fill="#2800b4" mask="url(#t2)"/><rect x="340" y="67" width="269" height="2" fill="#5a00aa"/><rect x="340" y="69" width="269" height="2" fill="#ffff00"/><rect x="340" y="69" width="269" height="2" fill="#ffff50" mask="url(#t3)"/><rect x="340" y="71" width="269" height="4" fill="#ffffe6"/><rect x="340" y="75" width="269" height="2" fill="#ff5000"/><rect x="340" y="75" width="269" height="2" fill="#ff6e00" mask="url(#t1)"/><rect x="340" y="77" width="269" height="5" fill="#5a00b4"/><rect x="340" y="77" width="269" height="5" fill="#4600be" mask="url(#t2)"/><rect x="340" y="82" width="269" height="6" fill="#0000f0"/><rect x="340" y="82" width="269" height="6" fill="#0000c8" mask="url(#t3)"/><rect x="340" y="88" width="269" height="3" fill="#4600d2"/><rect x="340" y="88" width="269" height="3" fill="#2800dc" mask="url(#t1)"/><rect x="340" y="91" width="269" height="1" fill="#1e00e6"/><rect x="340" y="92" width="269" height="2" fill="#6e006e"/><rect x="340" y="94" width="269" height="2" fill="#1400e6"/><rect x="340" y="96" width="269" height="2" fill="#000096"/><rect x="340" y="98" width="269" height="2" fill="#0000fa"/><rect x="340" y="100" width="269" height="2" fill="#78006e"/><rect x="340" y="102" width="269" height="2" fill="#820050"/><rect x="340" y="104" width="269" height="2" fill="#5a00aa"/><rect x="340" y="106" width="269" height="2" fill="#1e00eb"/><rect x="340" y="108" width="269" height="5" fill="#000028"/><rect x="340" y="108" width="269" height="5" fill="#000050" mask="url(#t2)"/><rect x="340" y="113" width="269" height="1" fill="#0000dc"/><rect x="340" y="114" width="269" height="3" fill="#ff8c32"/><rect x="340" y="117" width="269" height="2" fill="#ffc83c"/><rect x="340" y="119" width="269" height="3" fill="#a5000f"/><rect x="340" y="122" width="269" height="5" fill="#5f008c"/><rect x="340" y="122" width="269" height="5" fill="#7d005a" mask="url(#t3)"/><rect x="340" y="127" width="269" height="3" fill="#aa001e"/><rect x="340" y="130" width="269" height="3" fill="#e60000"/><rect x="340" y="133" width="269" height="6" fill="#ff1e00"/><rect x="340" y="133" width="269" height="6" fill="#f00000" mask="url(#t1)"/><rect x="340" y="139" width="269" height="10" fill="#f50000"/><rect x="340" y="139" width="269" height="10" fill="#dc0000" mask="url(#t2)"/><rect x="340" y="149" width="269" height="2" fill="#c8000a"/><rect x="340" y="151" width="269" height="14" fill="#6e0064"/><rect x="340" y="151" width="269" height="14" fill="#960028" mask="url(#t3)"/><rect x="340" y="165" width="269" height="15" fill="#91002d"/><rect x="340" y="165" width="269" height="15" fill="#640078" mask="url(#t1)"/><rect x="340" y="180" width="269" height="12" fill="#9b0028"/><rect x="340" y="180" width="269" height="12" fill="#6e0064" mask="url(#t2)"/><rect x="340" y="192" width="269" height="20" fill="#69006e"/><rect x="340" y="192" width="269" height="20" fill="#8c0032" mask="url(#t3)"/><rect x="340" y="212" width="269" height="7" fill="#5a0087"/><rect x="340" y="212" width="269" height="7" fill="#780050" mask="url(#t1)"/><rect x="340" y="219" width="269" height="17" fill="#690069"/><rect x="340" y="219" width="269" height="17" fill="#8c0032" mask="url(#t2)"/><rect x="340" y="236" width="269" height="5" fill="#5a008c"/><rect x="340" y="236" width="269" height="5" fill="#6e0064" mask="url(#t3)"/><rect x="340" y="241" width="269" height="6" fill="#f00000"/><rect x="340" y="241" width="269" height="6" fill="#dc0000" mask="url(#t1)"/><rect x="340" y="247" width="269" height="16" fill="#640073"/><rect x="340" y="247" width="269" height="16" fill="#82003c" mask="url(#t2)"/><rect x="340" y="263" width="269" height="5" fill="#b40028"/><rect x="340" y="263" width="269" height="5" fill="#8c0046" mask="url(#t3)"/><rect x="340" y="268" width="269" height="6" fill="#640082"/><rect x="340" y="268" width="269" height="6" fill="#78005a" mask="url(#t1)"/><rect x="340" y="274" width="269" height="4" fill="#6e0069"/><rect x="340" y="274" width="269" height="4" fill="#8c003c" mask="url(#t2)"/><rect x="340" y="278" width="269" height="6" fill="#5a00a0"/><rect x="340" y="278" width="269" height="6" fill="#6e006e" mask="url(#t3)"/><rect x="340" y="284" width="269" height="6" fill="#730064"/><rect x="340" y="284" width="269" height="6" fill="#8c0046" mask="url(#t1)"/><rect x="340" y="290" width="269" height="19" fill="#5a00a5"/><rect x="340" y="290" width="269" height="19" fill="#690082" mask="url(#t2)"/><rect x="340" y="309" width="269" height="4" fill="#69008c"/><rect x="340" y="309" width="269" height="4" fill="#7d0064" mask="url(#t3)"/><rect x="340" y="313" width="269" height="11" fill="#5a00aa"/><rect x="340" y="313" width="269" height="11" fill="#690087" mask="url(#t1)"/><rect x="340" y="324" width="269" height="5" fill="#6e0087"/><rect x="340" y="324" width="269" height="5" fill="#87005a" mask="url(#t2)"/><rect x="340" y="329" width="269" height="3" fill="#b4003c"/><rect x="340" y="329" width="269" height="3" fill="#96005a" mask="url(#t3)"/><rect x="340" y="332" width="269" height="3" fill="#e6000a"/><rect x="340" y="332" width="269" height="3" fill="#c8001e" mask="url(#t1)"/><rect x="340" y="335" width="269" height="3" fill="#8c005a"/><rect x="340" y="335" width="269" height="3" fill="#aa0028" mask="url(#t2)"/><rect x="340" y="338" width="269" height="8" fill="#6c008c"/><rect x="340" y="338" width="269" height="8" fill="#87005a" mask="url(#t3)"/><rect x="340" y="346" width="269" height="12" fill="#640096"/><rect x="340" y="346" width="269" height="12" fill="#78006e" mask="url(#t1)"/><rect x="340" y="358" width="269" height="42" fill="#5a00a0"/><rect x="340" y="358" width="269" height="42" fill="#69008c" mask="url(#t2)"/><rect x="340" y="400" width="269" height="17" fill="#5500a5"/><rect x="340" y="400" width="269" height="17" fill="#640091" mask="url(#t3)"/><rect x="363" y="63" width="2" height="2" fill="#1e1ef0"/><rect x="363" y="65" width="2" height="4" fill="#e10000"/><rect x="363" y="77" width="2" height="5" fill="#e60f00"/><rect x="371" y="63" width="2" height="2" fill="#1e1ef0"/><rect x="371" y="65" width="2" height="4" fill="#e10000"/><rect x="371" y="77" width="2" height="5" fill="#e60f00"/><rect x="380" y="63" width="2" height="2" fill="#1e1ef0"/><rect x="380" y="65" width="2" height="4" fill="#e10000"/><rect x="380" y="77" width="2" height="5" fill="#e60f00"/><rect x="388" y="63" width="2" height="2" fill="#1e1ef0"/><rect x="388" y="65" width="2" height="4" fill="#e10000"/><rect x="388" y="77" width="2" height="5" fill="#e60f00"/><rect x="397" y="63" width="2" height="2" fill="#1e1ef0"/><rect x="397" y="65" width="2" height="4" fill="#e10000"/><rect x="397" y="77" width="2" height="5" fill="#e60f00"/><rect x="405" y="63" width="2" height="2" fill="#1e1ef0"/><rect x="405" y="65" width="2" height="4" fill="#e10000"/><rect x="405" y="77" width="2" height="5" fill="#e60f00"/><rect x="413" y="63" width="2" height="2" fill="#1e1ef0"/><rect x="413" y="65" width="2" height="4" fill="#e10000"/><rect x="413" y="77" width="2" height="5" fill="#e60f00"/><rect x="422" y="63" width="2" height="2" fill="#1e1ef0"/><rect x="422" y="65" width="2" height="4" fill="#e10000"/><rect x="422" y="77" width="2" height="5" fill="#e60f00"/><rect x="430" y="63" width="2" height="2" fill="#1e1ef0"/><rect x="430" y="65" width="2" height="4" fill="#e10000"/><rect x="430" y="77" width="2" height="5" fill="#e60f00"/><rect x="439" y="63" width="2" height="2" fill="#1e1ef0"/><rect x="439" y="65" width="2" height="4" fill="#e10000"/><rect x="439" y="77" width="2" height="5" fill="#e60f00"/><rect x="447" y="63" width="2" height="2" fill="#1e1ef0"/><rect x="447" y="65" width="2" height="4" fill="#e10000"/><rect x="447" y="77" width="2" height="5" fill="#e60f00"/><rect x="456" y="63" width="2" height="2" fill="#1e1ef0"/><rect x="456" y="65" width="2" height="4" fill="#e10000"/><rect x="456" y="77" width="2" height="5" fill="#e60f00"/><rect x="464" y="63" width="2" height="2" fill="#1e1ef0"/><rect x="464" y="65" width="2" height="4" fill="#e10000"/><rect x="464" y="77" width="2" height="5" fill="#e60f00"/><rect x="472" y="63" width="2" height="2" fill="#1e1ef0"/><rect x="472" y="65" width="2" height="4" fill="#e10000"/><rect x="472" y="77" width="2" height="5" fill="#e60f00"/><rect x="481" y="63" width="2" height="2" fill="#1e1ef0"/><rect x="481" y="65" width="2" height="4" fill="#e10000"/><rect x="481" y="77" width="2" height="5" fill="#e60f00"/><rect x="489" y="63" width="2" height="2" fill="#1e1ef0"/><rect x="489" y="65" width="2" height="4" fill="#e10000"/><rect x="489" y="77" width="2" height="5" fill="#e60f00"/><rect x="498" y="63" width="2" height="2" fill="#1e1ef0"/><rect x="498" y="65" width="2" height="4" fill="#e10000"/><rect x="498" y="77" width="2" height="5" fill="#e60f00"/><rect x="506" y="63" width="2" height="2" fill="#1e1ef0"/><rect x="506" y="65" width="2" height="4" fill="#e10000"/><rect x="506" y="77" width="2" height="5" fill="#e60f00"/><rect x="514" y="63" width="2" height="2" fill="#1e1ef0"/><rect x="514" y="65" width="2" height="4" fill="#e10000"/><rect x="514" y="77" width="2" height="5" fill="#e60f00"/><rect x="523" y="63" width="2" height="2" fill="#1e1ef0"/><rect x="523" y="65" width="2" height="4" fill="#e10000"/><rect x="523" y="77" width="2" height="5" fill="#e60f00"/><rect x="531" y="63" width="2" height="2" fill="#1e1ef0"/><rect x="531" y="65" width="2" height="4" fill="#e10000"/><rect x="531" y="77" width="2" height="5" fill="#e60f00"/><rect x="540" y="63" width="2" height="2" fill="#1e1ef0"/><rect x="540" y="65" width="2" height="4" fill="#e10000"/><rect x="540" y="77" width="2" height="5" fill="#e60f00"/><rect x="548" y="63" width="2" height="2" fill="#1e1ef0"/><rect x="548" y="65" width="2" height="4" fill="#e10000"/><rect x="548" y="77" width="2" height="5" fill="#e60f00"/><rect x="557" y="63" width="2" height="2" fill="#1e1ef0"/><rect x="557" y="65" width="2" height="4" fill="#e10000"/><rect x="557" y="77" width="2" height="5" fill="#e60f00"/><rect x="565" y="63" width="2" height="2" fill="#1e1ef0"/><rect x="565" y="65" width="2" height="4" fill="#e10000"/><rect x="565" y="77" width="2" height="5" fill="#e60f00"/><rect x="573" y="63" width="2" height="2" fill="#1e1ef0"/><rect x="573" y="65" width="2" height="4" fill="#e10000"/><rect x="573" y="77" width="2" height="5" fill="#e60f00"/><rect x="582" y="63" width="2" height="2" fill="#1e1ef0"/><rect x="582" y="65" width="2" height="4" fill="#e10000"/><rect x="582" y="77" width="2" height="5" fill="#e60f00"/><rect x="590" y="63" width="2" height="2" fill="#1e1ef0"/><rect x="590" y="65" width="2" height="4" fill="#e10000"/><rect x="590" y="77" width="2" height="5" fill="#e60f00"/><rect x="599" y="63" width="2" height="2" fill="#1e1ef0"/><rect x="599" y="65" width="2" height="4" fill="#e10000"/><rect x="599" y="77" width="2" height="5" fill="#e60f00"/><rect x="607" y="63" width="2" height="2" fill="#1e1ef0"/><rect x="607" y="65" width="2" height="4" fill="#e10000"/><rect x="607" y="77" width="2" height="5" fill="#e60f00"/><rect x="456" y="293" width="1" height="8" fill="#ffe63c"/><rect x="510" y="273" width="1" height="6" fill="#ffe63c"/><rect x="510" y="299" width="1" height="4" fill="#ff9628"/><rect x="510" y="250" width="1" height="4" fill="#e60000"/><rect x="549" y="294" width="1" height="7" fill="#ffc83c"/><rect x="445" y="248" width="1" height="4" fill="#dc0000"/><rect x="378" y="301" width="1" height="4" fill="#dc0000"/><rect x="376" y="278" width="1" height="3" fill="#dc0000"/><rect x="368" y="58" width="1" height="2" fill="#e60000"/><rect x="400" y="58" width="1" height="2" fill="#e60000"/><rect x="374" y="58" width="1" height="2" fill="#c8003c"/><rect x="380" y="58" width="1" height="2" fill="#a00078"/><rect x="386" y="58" width="1" height="2" fill="#c8003c"/><rect x="392" y="58" width="1" height="2" fill="#a00078"/><rect x="523" y="57" width="1" height="3" fill="#dc0014"/><rect x="529" y="57" width="1" height="3" fill="#c80028"/><rect x="522" y="85" width="1" height="7" fill="#e61400"/><rect x="523" y="85" width="1" height="7" fill="#c8001e"/><rect x="528" y="85" width="1" height="7" fill="#c8001e"/><rect x="529" y="86" width="1" height="5" fill="#a0003c"/><rect x="366" y="86" width="1" height="5" fill="#ff5a00"/><rect x="372" y="88" width="1" height="4" fill="#e60000"/><rect x="380" y="86" width="1" height="5" fill="#c80028"/><rect x="392" y="88" width="1" height="4" fill="#e60000"/><rect x="368" y="406" width="1" height="16" fill="#500ac8"/><rect x="369" y="402" width="1" height="17" fill="#4619e1"/><rect x="371" y="405" width="1" height="16" fill="#500ac8"/><rect x="380" y="400" width="1" height="17" fill="#4619e1"/><rect x="387" y="403" width="1" height="16" fill="#500ac8"/><rect x="396" y="399" width="1" height="17" fill="#4619e1"/><rect x="398" y="402" width="1" height="17" fill="#4619e1"/><rect x="400" y="402" width="1" height="16" fill="#500ac8"/><rect x="403" y="405" width="1" height="16" fill="#500ac8"/><rect x="404" y="400" width="1" height="17" fill="#4619e1"/><rect x="407" y="399" width="1" height="17" fill="#4619e1"/><rect x="408" y="401" width="1" height="16" fill="#500ac8"/><rect x="413" y="400" width="1" height="17" fill="#4619e1"/><rect x="415" y="405" width="1" height="16" fill="#500ac8"/><rect x="419" y="401" width="1" height="17" fill="#4619e1"/><rect x="426" y="406" width="1" height="16" fill="#500ac8"/><rect x="437" y="405" width="1" height="16" fill="#500ac8"/><rect x="445" y="399" width="1" height="17" fill="#4619e1"/><rect x="449" y="406" width="1" height="16" fill="#500ac8"/><rect x="452" y="402" width="1" height="17" fill="#4619e1"/><rect x="470" y="400" width="1" height="17" fill="#4619e1"/><rect x="473" y="402" width="1" height="16" fill="#500ac8"/><rect x="474" y="399" width="1" height="17" fill="#4619e1"/><rect x="478" y="401" width="1" height="17" fill="#4619e1"/><rect x="485" y="404" width="1" height="16" fill="#500ac8"/><rect x="496" y="401" width="1" height="16" fill="#500ac8"/><rect x="498" y="406" width="1" height="16" fill="#500ac8"/><rect x="507" y="405" width="1" height="16" fill="#500ac8"/><rect x="512" y="402" width="1" height="17" fill="#4619e1"/><rect x="517" y="401" width="1" height="17" fill="#4619e1"/><rect x="518" y="400" width="1" height="17" fill="#4619e1"/><rect x="520" y="406" width="1" height="16" fill="#500ac8"/><rect x="522" y="399" width="1" height="17" fill="#4619e1"/><rect x="524" y="400" width="1" height="17" fill="#4619e1"/><rect x="531" y="399" width="1" height="17" fill="#4619e1"/><rect x="535" y="400" width="1" height="17" fill="#4619e1"/><rect x="536" y="400" width="1" height="17" fill="#4619e1"/><rect x="537" y="401" width="1" height="16" fill="#500ac8"/><rect x="541" y="399" width="1" height="17" fill="#4619e1"/><rect x="544" y="402" width="1" height="17" fill="#4619e1"/><rect x="549" y="403" width="1" height="16" fill="#500ac8"/><rect x="552" y="402" width="1" height="16" fill="#500ac8"/><rect x="553" y="401" width="1" height="16" fill="#500ac8"/><rect x="554" y="406" width="1" height="16" fill="#500ac8"/><rect x="568" y="399" width="1" height="17" fill="#4619e1"/><rect x="577" y="401" width="1" height="16" fill="#500ac8"/><rect x="586" y="403" width="1" height="16" fill="#500ac8"/><rect x="594" y="403" width="1" height="16" fill="#500ac8"/><rect x="359" y="35" width="1" height="22" fill="#3200d7"/><rect x="360" y="35" width="3" height="22" fill="#0a0aeb"/><rect x="363" y="35" width="1" height="22" fill="#0000b4"/></g>
<g><rect x="104" y="30" width="506" height="1" fill="#fff"/><rect x="104" y="417" width="506" height="1" fill="#fff"/><rect x="104" y="30" width="1" height="388" fill="#fff"/><rect x="609" y="30" width="1" height="388" fill="#fff"/><rect x="137" y="31" width="1" height="8" fill="#fff"/><rect x="137" y="409" width="1" height="8" fill="#fff"/><rect x="171" y="31" width="1" height="4" fill="#fff"/><rect x="171" y="413" width="1" height="4" fill="#fff"/><rect x="205" y="31" width="1" height="4" fill="#fff"/><rect x="205" y="413" width="1" height="4" fill="#fff"/><rect x="238" y="31" width="1" height="4" fill="#fff"/><rect x="238" y="413" width="1" height="4" fill="#fff"/><rect x="272" y="31" width="1" height="8" fill="#fff"/><rect x="272" y="409" width="1" height="8" fill="#fff"/><rect x="306" y="31" width="1" height="4" fill="#fff"/><rect x="306" y="413" width="1" height="4" fill="#fff"/><rect x="339" y="31" width="1" height="4" fill="#fff"/><rect x="339" y="413" width="1" height="4" fill="#fff"/><rect x="373" y="31" width="1" height="4" fill="#fff"/><rect x="373" y="413" width="1" height="4" fill="#fff"/><rect x="407" y="31" width="1" height="8" fill="#fff"/><rect x="407" y="409" width="1" height="8" fill="#fff"/><rect x="440" y="31" width="1" height="4" fill="#fff"/><rect x="440" y="413" width="1" height="4" fill="#fff"/><rect x="474" y="31" width="1" height="4" fill="#fff"/><rect x="474" y="413" width="1" height="4" fill="#fff"/><rect x="508" y="31" width="1" height="4" fill="#fff"/><rect x="508" y="413" width="1" height="4" fill="#fff"/><rect x="541" y="31" width="1" height="8" fill="#fff"/><rect x="541" y="409" width="1" height="8" fill="#fff"/><rect x="575" y="31" width="1" height="4" fill="#fff"/><rect x="575" y="413" width="1" height="4" fill="#fff"/><rect x="105" y="44" width="5" height="1" fill="#fff"/><rect x="604" y="44" width="5" height="1" fill="#fff"/><rect x="105" y="58" width="5" height="1" fill="#fff"/><rect x="604" y="58" width="5" height="1" fill="#fff"/><rect x="105" y="72" width="5" height="1" fill="#fff"/><rect x="604" y="72" width="5" height="1" fill="#fff"/><rect x="105" y="85" width="10" height="1" fill="#fff"/><rect x="599" y="85" width="10" height="1" fill="#fff"/><rect x="105" y="99" width="5" height="1" fill="#fff"/><rect x="604" y="99" width="5" height="1" fill="#fff"/><rect x="105" y="113" width="5" height="1" fill="#fff"/><rect x="604" y="113" width="5" height="1" fill="#fff"/><rect x="105" y="127" width="5" height="1" fill="#fff"/><rect x="604" y="127" width="5" height="1" fill="#fff"/><rect x="105" y="141" width="10" height="1" fill="#fff"/><rect x="599" y="141" width="10" height="1" fill="#fff"/><rect x="105" y="154" width="5" height="1" fill="#fff"/><rect x="604" y="154" width="5" height="1" fill="#fff"/><rect x="105" y="168" width="5" height="1" fill="#fff"/><rect x="604" y="168" width="5" height="1" fill="#fff"/><rect x="105" y="182" width="5" height="1" fill="#fff"/><rect x="604" y="182" width="5" height="1" fill="#fff"/><rect x="105" y="196" width="10" height="1" fill="#fff"/><rect x="599" y="196" width="10" height="1" fill="#fff"/><rect x="105" y="223" width="5" height="1" fill="#fff"/><rect x="604" y="223" width="5" height="1" fill="#fff"/><rect x="105" y="251" width="5" height="1" fill="#fff"/><rect x="604" y="251" width="5" height="1" fill="#fff"/><rect x="105" y="279" width="5" height="1" fill="#fff"/><rect x="604" y="279" width="5" height="1" fill="#fff"/><rect x="105" y="306" width="10" height="1" fill="#fff"/><rect x="599" y="306" width="10" height="1" fill="#fff"/><rect x="105" y="334" width="5" height="1" fill="#fff"/><rect x="604" y="334" width="5" height="1" fill="#fff"/><rect x="105" y="361" width="5" height="1" fill="#fff"/><rect x="604" y="361" width="5" height="1" fill="#fff"/><rect x="105" y="389" width="5" height="1" fill="#fff"/><rect x="604" y="389" width="5" height="1" fill="#fff"/></g>
</g>
<text x="212.0" y="22" font-size="22" textLength="53.44" lengthAdjust="spacingAndGlyphs">Solar</text>
<text x="278.0" y="22" font-size="22" textLength="52.27" lengthAdjust="spacingAndGlyphs">radio</text>
<text x="344.0" y="22" font-size="22" textLength="39.29" lengthAdjust="spacingAndGlyphs">Flux</text>
<text x="394.0" y="22" font-size="22" textLength="105.13" lengthAdjust="spacingAndGlyphs">(Glasgow)</text>
<text x="204.0" y="461" font-size="16" textLength="42.11" lengthAdjust="spacingAndGlyphs">Start</text>
<text x="253.0" y="461" font-size="16" textLength="42.03" lengthAdjust="spacingAndGlyphs">Time</text>
<text x="303.0" y="461" font-size="16" textLength="113.12" lengthAdjust="spacingAndGlyphs">(20-Dec-15</text>
<text x="423.0" y="461" font-size="16" textLength="83.17" lengthAdjust="spacingAndGlyphs">16:15:00)</text>
<text x="113.0" y="441" font-size="16.5" textLength="48.57" lengthAdjust="spacingAndGlyphs">16:16</text>
<text x="248.0" y="441" font-size="16.5" textLength="48.15" lengthAdjust="spacingAndGlyphs">16:20</text>
<text x="383.0" y="441" font-size="16.5" textLength="48.57" lengthAdjust="spacingAndGlyphs">16:24</text>
<text x="517.0" y="441" font-size="16.5" textLength="49.14" lengthAdjust="spacingAndGlyphs">16:28</text>
<g font-size="16.5">
<text x="77" y="42.5" textLength="23" lengthAdjust="spacingAndGlyphs">45</text>
<text x="77" y="92.5" textLength="23" lengthAdjust="spacingAndGlyphs">50</text>
<text x="77" y="147.5" textLength="23" lengthAdjust="spacingAndGlyphs">55</text>
<text x="77" y="202.5" textLength="23" lengthAdjust="spacingAndGlyphs">60</text>
<text x="77" y="313.5" textLength="23" lengthAdjust="spacingAndGlyphs">70</text>
<text x="77" y="417.5" textLength="23" lengthAdjust="spacingAndGlyphs">80</text>
</g>
<text transform="translate(62,297) rotate(-90)" font-size="16" textLength="86.91" lengthAdjust="spacingAndGlyphs">Frequency</text>
<text transform="translate(62,200.8) rotate(-90)" font-size="16" textLength="48.21" lengthAdjust="spacingAndGlyphs">[MHz]</text>
<text x="1" y="479" font-size="10" textLength="172" lengthAdjust="spacingAndGlyphs" style="font-family:&quot;Liberation Sans&quot;,sans-serif;font-weight:400">Updated Thu Feb 22 01:07:40 2018</text>

</svg>
</body></html>
